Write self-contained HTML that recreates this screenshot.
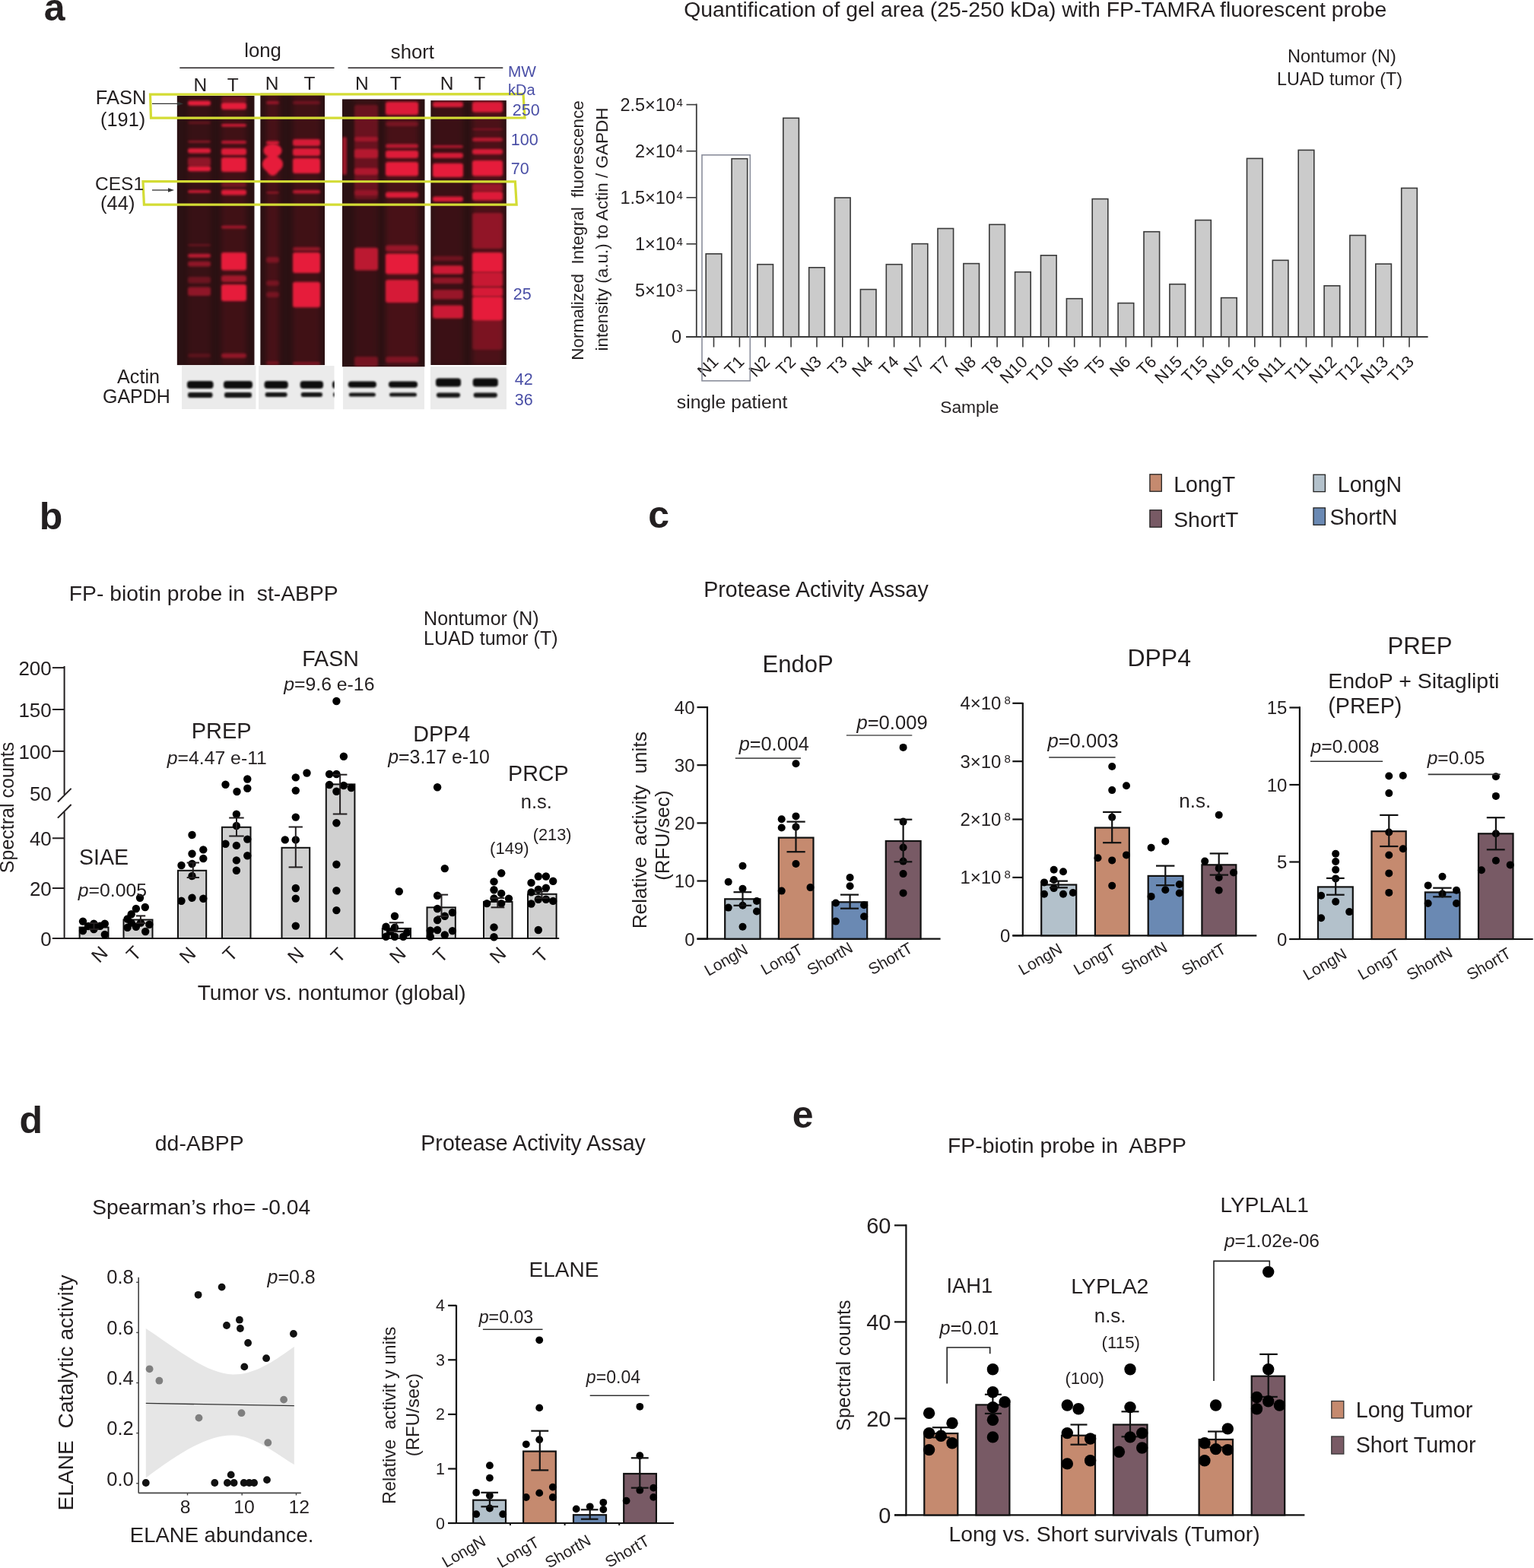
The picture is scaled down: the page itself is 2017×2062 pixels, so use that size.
<!DOCTYPE html>
<html><head><meta charset="utf-8"><title>Figure</title>
<style>html,body{margin:0;padding:0;background:#fff;} svg{display:block;}</style>
</head><body>
<svg width="2017" height="2062" viewBox="0 0 2017 2062" font-family="Liberation Sans, Arial, sans-serif">
<rect width="2017" height="2062" fill="#fff"/>
<defs><filter id="bl" x="-30%" y="-100%" width="160%" height="300%"><feGaussianBlur stdDeviation="1.8"/></filter><filter id="bl2" x="-30%" y="-100%" width="160%" height="300%"><feGaussianBlur stdDeviation="3.5"/></filter><filter id="blk" x="-30%" y="-100%" width="160%" height="300%"><feGaussianBlur stdDeviation="1.3"/></filter></defs>
<clipPath id="gc0"><rect x="232.6" y="126" width="102.1" height="354.3"/></clipPath>
<g clip-path="url(#gc0)">
<rect x="232.6" y="126.0" width="102.1" height="354.3" fill="#2b1113"/>
<rect x="247.0" y="126" width="30.0" height="354.3" fill="#b0182c" opacity="0.10" filter="url(#bl2)"/>
<rect x="247.0" y="132.5" width="30.0" height="6.2" rx="3" fill="#e61f3b" opacity="1.00" filter="url(#bl)"/>
<rect x="247.0" y="160.5" width="30.0" height="2.0" rx="3" fill="#e61f3b" opacity="0.40" filter="url(#bl)"/>
<rect x="247.0" y="185.0" width="30.0" height="2.5" rx="3" fill="#e61f3b" opacity="0.55" filter="url(#bl)"/>
<rect x="247.0" y="195.0" width="30.0" height="6.5" rx="3" fill="#e61f3b" opacity="0.95" filter="url(#bl)"/>
<rect x="247.0" y="207.0" width="30.0" height="11.5" rx="3" fill="#e61f3b" opacity="0.50" filter="url(#bl)"/>
<rect x="247.0" y="218.5" width="30.0" height="6.8" rx="3" fill="#e61f3b" opacity="1.00" filter="url(#bl)"/>
<rect x="247.0" y="250.3" width="30.0" height="3.2" rx="3" fill="#e61f3b" opacity="0.95" filter="url(#bl)"/>
<rect x="247.0" y="321.0" width="30.0" height="2.5" rx="3" fill="#e61f3b" opacity="0.30" filter="url(#bl)"/>
<rect x="247.0" y="333.8" width="30.0" height="5.0" rx="3" fill="#e61f3b" opacity="0.75" filter="url(#bl)"/>
<rect x="247.0" y="343.8" width="30.0" height="6.8" rx="3" fill="#e61f3b" opacity="0.50" filter="url(#bl)"/>
<rect x="247.0" y="364.0" width="30.0" height="8.4" rx="3" fill="#e61f3b" opacity="0.30" filter="url(#bl)"/>
<rect x="247.0" y="377.4" width="30.0" height="11.6" rx="3" fill="#e61f3b" opacity="0.50" filter="url(#bl)"/>
<rect x="247.0" y="465.0" width="30.0" height="5.0" rx="3" fill="#e61f3b" opacity="0.20" filter="url(#bl)"/>
<rect x="291.0" y="126" width="33.0" height="354.3" fill="#b0182c" opacity="0.16" filter="url(#bl2)"/>
<rect x="291.0" y="127.0" width="33.0" height="8.0" rx="3" fill="#e61f3b" opacity="0.30" filter="url(#bl)"/>
<rect x="291.0" y="135.0" width="33.0" height="9.0" rx="3" fill="#e61f3b" opacity="1.00" filter="url(#bl)"/>
<rect x="291.0" y="163.0" width="33.0" height="3.5" rx="3" fill="#e61f3b" opacity="0.90" filter="url(#bl)"/>
<rect x="291.0" y="185.0" width="33.0" height="4.0" rx="3" fill="#e61f3b" opacity="0.75" filter="url(#bl)"/>
<rect x="291.0" y="195.0" width="33.0" height="9.0" rx="3" fill="#e61f3b" opacity="0.95" filter="url(#bl)"/>
<rect x="291.0" y="207.0" width="33.0" height="19.0" rx="3" fill="#e61f3b" opacity="1.00" filter="url(#bl)"/>
<rect x="291.0" y="240.0" width="33.0" height="6.0" rx="3" fill="#e61f3b" opacity="0.30" filter="url(#bl)"/>
<rect x="291.0" y="249.6" width="33.0" height="7.0" rx="3" fill="#e61f3b" opacity="0.95" filter="url(#bl)"/>
<rect x="291.0" y="296.8" width="33.0" height="3.7" rx="3" fill="#e61f3b" opacity="0.60" filter="url(#bl)"/>
<rect x="291.0" y="332.0" width="33.0" height="23.6" rx="3" fill="#e61f3b" opacity="1.00" filter="url(#bl)"/>
<rect x="291.0" y="362.3" width="33.0" height="8.4" rx="3" fill="#e61f3b" opacity="0.60" filter="url(#bl)"/>
<rect x="291.0" y="374.0" width="33.0" height="22.0" rx="3" fill="#e61f3b" opacity="1.00" filter="url(#bl)"/>
<rect x="291.0" y="464.8" width="33.0" height="5.9" rx="3" fill="#e61f3b" opacity="0.50" filter="url(#bl)"/>
</g>
<clipPath id="gc1"><rect x="342.2" y="122.5" width="84.8" height="357.8"/></clipPath>
<g clip-path="url(#gc1)">
<rect x="342.2" y="122.5" width="84.8" height="357.8" fill="#2b1113"/>
<rect x="350.0" y="122.5" width="17.0" height="357.8" fill="#b0182c" opacity="0.22" filter="url(#bl2)"/>
<rect x="350.0" y="133.0" width="17.0" height="4.0" rx="3" fill="#e61f3b" opacity="0.50" filter="url(#bl)"/>
<rect x="350.0" y="185.6" width="17.0" height="4.4" rx="3" fill="#e61f3b" opacity="0.90" filter="url(#bl)"/>
<rect x="350.0" y="252.0" width="17.0" height="2.5" rx="3" fill="#e61f3b" opacity="0.50" filter="url(#bl)"/>
<rect x="350.0" y="338.0" width="17.0" height="7.5" rx="3" fill="#e61f3b" opacity="0.35" filter="url(#bl)"/>
<rect x="350.0" y="369.0" width="17.0" height="6.8" rx="3" fill="#e61f3b" opacity="0.30" filter="url(#bl)"/>
<rect x="350.0" y="384.0" width="17.0" height="7.0" rx="3" fill="#e61f3b" opacity="0.30" filter="url(#bl)"/>
<rect x="350.0" y="475.0" width="17.0" height="5.0" rx="3" fill="#e61f3b" opacity="0.30" filter="url(#bl)"/>
<rect x="385.0" y="122.5" width="36.0" height="357.8" fill="#b0182c" opacity="0.16" filter="url(#bl2)"/>
<rect x="385.0" y="133.0" width="36.0" height="4.0" rx="3" fill="#e61f3b" opacity="0.30" filter="url(#bl)"/>
<rect x="385.0" y="183.0" width="36.0" height="9.0" rx="3" fill="#e61f3b" opacity="0.90" filter="url(#bl)"/>
<rect x="385.0" y="195.0" width="36.0" height="10.0" rx="3" fill="#e61f3b" opacity="0.95" filter="url(#bl)"/>
<rect x="385.0" y="208.0" width="36.0" height="20.0" rx="3" fill="#e61f3b" opacity="1.00" filter="url(#bl)"/>
<rect x="385.0" y="250.0" width="36.0" height="4.5" rx="3" fill="#e61f3b" opacity="0.75" filter="url(#bl)"/>
<rect x="385.0" y="325.0" width="36.0" height="5.0" rx="3" fill="#e61f3b" opacity="0.50" filter="url(#bl)"/>
<rect x="385.0" y="332.0" width="36.0" height="27.0" rx="3" fill="#e61f3b" opacity="1.00" filter="url(#bl)"/>
<rect x="385.0" y="370.7" width="36.0" height="33.6" rx="3" fill="#e61f3b" opacity="1.00" filter="url(#bl)"/>
<rect x="385.0" y="476.0" width="36.0" height="4.0" rx="3" fill="#e61f3b" opacity="0.40" filter="url(#bl)"/>
</g>
<clipPath id="gc2"><rect x="450" y="130.3" width="108.7" height="352.2"/></clipPath>
<g clip-path="url(#gc2)">
<rect x="450.0" y="130.3" width="108.7" height="352.2" fill="#2b1113"/>
<rect x="466.0" y="130.3" width="31.0" height="352.2" fill="#b0182c" opacity="0.12" filter="url(#bl2)"/>
<rect x="466.0" y="138.0" width="31.0" height="124.0" rx="3" fill="#e61f3b" opacity="0.28" filter="url(#bl)"/>
<rect x="466.0" y="180.0" width="31.0" height="6.0" rx="3" fill="#e61f3b" opacity="0.45" filter="url(#bl)"/>
<rect x="466.0" y="196.0" width="31.0" height="12.0" rx="3" fill="#e61f3b" opacity="0.60" filter="url(#bl)"/>
<rect x="466.0" y="221.0" width="31.0" height="9.0" rx="3" fill="#e61f3b" opacity="0.55" filter="url(#bl)"/>
<rect x="466.0" y="250.0" width="31.0" height="7.0" rx="3" fill="#e61f3b" opacity="0.35" filter="url(#bl)"/>
<rect x="466.0" y="325.7" width="31.0" height="29.9" rx="3" fill="#e61f3b" opacity="0.75" filter="url(#bl)"/>
<rect x="466.0" y="469.0" width="31.0" height="13.0" rx="3" fill="#e61f3b" opacity="0.35" filter="url(#bl)"/>
<rect x="507.0" y="130.3" width="43.0" height="352.2" fill="#b0182c" opacity="0.22" filter="url(#bl2)"/>
<rect x="507.0" y="134.0" width="43.0" height="17.0" rx="3" fill="#e61f3b" opacity="0.95" filter="url(#bl)"/>
<rect x="507.0" y="160.0" width="43.0" height="6.0" rx="3" fill="#e61f3b" opacity="0.30" filter="url(#bl)"/>
<rect x="507.0" y="189.5" width="43.0" height="5.1" rx="3" fill="#e61f3b" opacity="0.75" filter="url(#bl)"/>
<rect x="507.0" y="198.0" width="43.0" height="10.0" rx="3" fill="#e61f3b" opacity="0.95" filter="url(#bl)"/>
<rect x="507.0" y="213.0" width="43.0" height="18.5" rx="3" fill="#e61f3b" opacity="1.00" filter="url(#bl)"/>
<rect x="507.0" y="252.5" width="43.0" height="7.5" rx="3" fill="#e61f3b" opacity="0.95" filter="url(#bl)"/>
<rect x="507.0" y="322.5" width="43.0" height="7.9" rx="3" fill="#e61f3b" opacity="0.50" filter="url(#bl)"/>
<rect x="507.0" y="333.6" width="43.0" height="26.8" rx="3" fill="#e61f3b" opacity="1.00" filter="url(#bl)"/>
<rect x="507.0" y="368.0" width="43.0" height="30.0" rx="3" fill="#e61f3b" opacity="0.90" filter="url(#bl)"/>
<rect x="507.0" y="469.0" width="43.0" height="8.0" rx="3" fill="#e61f3b" opacity="0.35" filter="url(#bl)"/>
<rect x="450.0" y="180.0" width="6.0" height="50.0" rx="3" fill="#e61f3b" opacity="0.60" filter="url(#bl)"/>
</g>
<clipPath id="gc3"><rect x="566.2" y="132.1" width="99.7" height="347.9"/></clipPath>
<g clip-path="url(#gc3)">
<rect x="566.2" y="132.1" width="99.7" height="347.9" fill="#2b1113"/>
<rect x="569.0" y="132.1" width="40.0" height="347.9" fill="#b0182c" opacity="0.12" filter="url(#bl2)"/>
<rect x="569.0" y="134.0" width="40.0" height="7.0" rx="3" fill="#e61f3b" opacity="0.90" filter="url(#bl)"/>
<rect x="569.0" y="191.0" width="40.0" height="3.6" rx="3" fill="#e61f3b" opacity="0.70" filter="url(#bl)"/>
<rect x="569.0" y="201.0" width="40.0" height="7.0" rx="3" fill="#e61f3b" opacity="0.90" filter="url(#bl)"/>
<rect x="569.0" y="214.7" width="40.0" height="18.3" rx="3" fill="#e61f3b" opacity="1.00" filter="url(#bl)"/>
<rect x="569.0" y="258.4" width="40.0" height="6.6" rx="3" fill="#e61f3b" opacity="0.95" filter="url(#bl)"/>
<rect x="569.0" y="336.7" width="40.0" height="6.3" rx="3" fill="#e61f3b" opacity="0.30" filter="url(#bl)"/>
<rect x="569.0" y="349.3" width="40.0" height="11.1" rx="3" fill="#e61f3b" opacity="0.85" filter="url(#bl)"/>
<rect x="569.0" y="365.0" width="40.0" height="8.0" rx="3" fill="#e61f3b" opacity="0.50" filter="url(#bl)"/>
<rect x="569.0" y="381.0" width="40.0" height="12.5" rx="3" fill="#e61f3b" opacity="0.55" filter="url(#bl)"/>
<rect x="569.0" y="401.4" width="40.0" height="17.3" rx="3" fill="#e61f3b" opacity="0.85" filter="url(#bl)"/>
<rect x="621.0" y="132.1" width="40.0" height="347.9" fill="#b0182c" opacity="0.25" filter="url(#bl2)"/>
<rect x="621.0" y="134.0" width="40.0" height="13.5" rx="3" fill="#e61f3b" opacity="0.95" filter="url(#bl)"/>
<rect x="621.0" y="169.0" width="40.0" height="2.0" rx="3" fill="#e61f3b" opacity="0.40" filter="url(#bl)"/>
<rect x="621.0" y="181.0" width="40.0" height="5.0" rx="3" fill="#e61f3b" opacity="0.70" filter="url(#bl)"/>
<rect x="621.0" y="196.0" width="40.0" height="7.0" rx="3" fill="#e61f3b" opacity="0.90" filter="url(#bl)"/>
<rect x="621.0" y="211.0" width="40.0" height="20.5" rx="3" fill="#e61f3b" opacity="1.00" filter="url(#bl)"/>
<rect x="621.0" y="241.6" width="40.0" height="10.4" rx="3" fill="#e61f3b" opacity="0.50" filter="url(#bl)"/>
<rect x="621.0" y="252.0" width="40.0" height="11.4" rx="3" fill="#e61f3b" opacity="0.95" filter="url(#bl)"/>
<rect x="621.0" y="280.0" width="40.0" height="47.0" rx="3" fill="#e61f3b" opacity="0.45" filter="url(#bl)"/>
<rect x="621.0" y="332.0" width="40.0" height="26.0" rx="3" fill="#e61f3b" opacity="1.00" filter="url(#bl)"/>
<rect x="621.0" y="358.0" width="40.0" height="19.0" rx="3" fill="#e61f3b" opacity="0.80" filter="url(#bl)"/>
<rect x="621.0" y="377.7" width="40.0" height="12.3" rx="3" fill="#e61f3b" opacity="0.90" filter="url(#bl)"/>
<rect x="621.0" y="390.0" width="40.0" height="31.8" rx="3" fill="#e61f3b" opacity="1.00" filter="url(#bl)"/>
<rect x="621.0" y="422.0" width="40.0" height="38.0" rx="3" fill="#e61f3b" opacity="0.30" filter="url(#bl)"/>
</g>
<clipPath id="ac0"><rect x="239" y="480.8" width="97.7" height="57.2"/></clipPath>
<g clip-path="url(#ac0)">
<rect x="239.0" y="480.8" width="97.7" height="57.2" fill="#ebebeb"/>
<rect x="246.0" y="501.0" width="34.5" height="10.0" rx="4" fill="#0a0a0a" filter="url(#blk)"/>
<rect x="247.0" y="516.0" width="32.5" height="7.0" rx="3" fill="#141414" filter="url(#blk)"/>
<rect x="294.0" y="501.0" width="38.0" height="10.0" rx="4" fill="#0a0a0a" filter="url(#blk)"/>
<rect x="295.0" y="516.0" width="36.0" height="7.0" rx="3" fill="#141414" filter="url(#blk)"/>
</g>
<clipPath id="ac1"><rect x="340" y="481" width="99.7" height="57.5"/></clipPath>
<g clip-path="url(#ac1)">
<rect x="340.0" y="481.0" width="99.7" height="57.5" fill="#ebebeb"/>
<rect x="347.6" y="501.0" width="31.1" height="10.0" rx="4" fill="#0a0a0a" filter="url(#blk)"/>
<rect x="348.6" y="516.0" width="29.1" height="6.0" rx="3" fill="#141414" filter="url(#blk)"/>
<rect x="394.7" y="501.0" width="30.3" height="10.0" rx="4" fill="#0a0a0a" filter="url(#blk)"/>
<rect x="395.7" y="516.0" width="28.3" height="6.0" rx="3" fill="#141414" filter="url(#blk)"/>
<rect x="437.0" y="501.0" width="9.0" height="10.0" rx="4" fill="#0a0a0a" filter="url(#blk)"/>
<rect x="438.0" y="516.0" width="7.0" height="6.0" rx="3" fill="#141414" filter="url(#blk)"/>
</g>
<clipPath id="ac2"><rect x="451" y="483" width="107.2" height="55.5"/></clipPath>
<g clip-path="url(#ac2)">
<rect x="451.0" y="483.0" width="107.2" height="55.5" fill="#ebebeb"/>
<rect x="457.8" y="501.4" width="37.1" height="8.4" rx="4" fill="#0a0a0a" filter="url(#blk)"/>
<rect x="458.8" y="516.4" width="35.1" height="5.1" rx="3" fill="#141414" filter="url(#blk)"/>
<rect x="511.0" y="501.4" width="38.0" height="8.4" rx="4" fill="#0a0a0a" filter="url(#blk)"/>
<rect x="512.0" y="516.4" width="36.0" height="5.1" rx="3" fill="#141414" filter="url(#blk)"/>
</g>
<clipPath id="ac3"><rect x="566" y="481.7" width="100.0" height="56.8"/></clipPath>
<g clip-path="url(#ac3)">
<rect x="566.0" y="481.7" width="100.0" height="56.8" fill="#ebebeb"/>
<rect x="573.0" y="497.5" width="33.0" height="11.0" rx="4" fill="#0a0a0a" filter="url(#blk)"/>
<rect x="574.0" y="516.4" width="31.0" height="6.3" rx="3" fill="#141414" filter="url(#blk)"/>
<rect x="621.7" y="497.5" width="33.1" height="11.0" rx="4" fill="#0a0a0a" filter="url(#blk)"/>
<rect x="622.7" y="516.4" width="31.1" height="6.3" rx="3" fill="#141414" filter="url(#blk)"/>
</g>
<polygon points="197.5,124.2 688,123.6 690,155 198.5,155.2" fill="none" stroke="#d3dc34" stroke-width="3.2"/>
<polygon points="188,238.6 677.4,238.8 679.2,269.2 189.4,269.2" fill="none" stroke="#d3dc34" stroke-width="3.2"/>
<line x1="200.0" y1="136.4" x2="236.0" y2="136.4" stroke="#333" stroke-width="1.3"/>
<polygon points="233,133.6 241,136.4 233,139.2" fill="#333"/>
<line x1="200.0" y1="250.0" x2="224.0" y2="250.0" stroke="#333" stroke-width="1.3"/>
<polygon points="221,247.3 229,250 221,252.7" fill="#333"/>
<text x="57.7" y="26.9" font-size="50" font-weight="bold" fill="#231f20">a</text>
<text x="321.2" y="74.7" font-size="25.8" fill="#231f20">long</text>
<text x="513.8" y="76.6" font-size="25.7" fill="#231f20">short</text>
<line x1="236.3" y1="89.3" x2="439.5" y2="89.3" stroke="#231f20" stroke-width="1.4"/>
<line x1="457.6" y1="89.2" x2="661.3" y2="89.2" stroke="#231f20" stroke-width="1.4"/>
<text x="254.5" y="119.6" font-size="24.5" fill="#231f20">N</text>
<text x="298.7" y="119.6" font-size="24.5" fill="#231f20">T</text>
<text x="348.8" y="118.0" font-size="24.5" fill="#231f20">N</text>
<text x="399.6" y="118.0" font-size="24.5" fill="#231f20">T</text>
<text x="466.9" y="117.8" font-size="24.5" fill="#231f20">N</text>
<text x="512.7" y="117.8" font-size="24.5" fill="#231f20">T</text>
<text x="578.7" y="117.8" font-size="24.5" fill="#231f20">N</text>
<text x="623.2" y="117.8" font-size="24.5" fill="#231f20">T</text>
<text x="125.8" y="136.9" font-size="25.5" fill="#231f20">FASN</text>
<text x="132.1" y="166.0" font-size="25.3" fill="#231f20">(191)</text>
<text x="125.0" y="249.6" font-size="24.5" fill="#231f20">CES1</text>
<text x="132.1" y="276.0" font-size="25.5" fill="#231f20">(44)</text>
<text x="154.0" y="504.3" font-size="25.2" fill="#231f20">Actin</text>
<text x="135.0" y="529.5" font-size="25" fill="#231f20">GAPDH</text>
<text x="668.0" y="100.5" font-size="20.8" fill="#4a4fa6">MW</text>
<text x="668.0" y="125.4" font-size="20" fill="#4a4fa6">kDa</text>
<text x="673.8" y="151.8" font-size="21.5" fill="#4a4fa6">250</text>
<text x="671.8" y="191.3" font-size="21.5" fill="#4a4fa6">100</text>
<text x="671.8" y="229.0" font-size="21.5" fill="#4a4fa6">70</text>
<text x="674.8" y="393.8" font-size="21.5" fill="#4a4fa6">25</text>
<text x="676.7" y="506.0" font-size="21.5" fill="#4a4fa6">42</text>
<text x="676.7" y="533.0" font-size="21.5" fill="#4a4fa6">36</text>
<g clip-path="url(#gc1)" filter="url(#bl)"><ellipse cx="358.5" cy="198" rx="12" ry="9" fill="#e61f3b"/><ellipse cx="358.5" cy="216" rx="13.5" ry="11" fill="#e61f3b"/><path d="M350,224 Q358.5,238 367,224 Z" fill="#e61f3b"/></g>
<text x="899.2" y="22.0" font-size="28.4" fill="#231f20">Quantification of gel area (25-250 kDa) with FP-TAMRA fluorescent probe</text>
<text x="1692.9" y="81.8" font-size="23.6" fill="#231f20">Nontumor (N)</text>
<text x="1679.1" y="112.0" font-size="23.4" fill="#231f20">LUAD tumor (T)</text>
<rect x="928.2" y="333.8" width="20.6" height="109.2" fill="#cbcbcb" stroke="#3a3a3a" stroke-width="1.6"/>
<line x1="938.5" y1="443.0" x2="938.5" y2="456.5" stroke="#3a3a3a" stroke-width="1.6"/>
<text transform="translate(946.0,477.2) rotate(-45)" font-size="22" text-anchor="end" fill="#231f20">N1</text>
<rect x="962.1" y="208.7" width="20.6" height="234.3" fill="#cbcbcb" stroke="#3a3a3a" stroke-width="1.6"/>
<line x1="972.4" y1="443.0" x2="972.4" y2="456.5" stroke="#3a3a3a" stroke-width="1.6"/>
<text transform="translate(979.9,477.2) rotate(-45)" font-size="22" text-anchor="end" fill="#231f20">T1</text>
<rect x="995.9" y="347.7" width="20.6" height="95.3" fill="#cbcbcb" stroke="#3a3a3a" stroke-width="1.6"/>
<line x1="1006.2" y1="443.0" x2="1006.2" y2="456.5" stroke="#3a3a3a" stroke-width="1.6"/>
<text transform="translate(1013.7,477.2) rotate(-45)" font-size="22" text-anchor="end" fill="#231f20">N2</text>
<rect x="1029.8" y="155.3" width="20.6" height="287.7" fill="#cbcbcb" stroke="#3a3a3a" stroke-width="1.6"/>
<line x1="1040.1" y1="443.0" x2="1040.1" y2="456.5" stroke="#3a3a3a" stroke-width="1.6"/>
<text transform="translate(1047.6,477.2) rotate(-45)" font-size="22" text-anchor="end" fill="#231f20">T2</text>
<rect x="1063.7" y="351.8" width="20.6" height="91.2" fill="#cbcbcb" stroke="#3a3a3a" stroke-width="1.6"/>
<line x1="1074.0" y1="443.0" x2="1074.0" y2="456.5" stroke="#3a3a3a" stroke-width="1.6"/>
<text transform="translate(1081.5,477.2) rotate(-45)" font-size="22" text-anchor="end" fill="#231f20">N3</text>
<rect x="1097.5" y="260.0" width="20.6" height="183.0" fill="#cbcbcb" stroke="#3a3a3a" stroke-width="1.6"/>
<line x1="1107.8" y1="443.0" x2="1107.8" y2="456.5" stroke="#3a3a3a" stroke-width="1.6"/>
<text transform="translate(1115.3,477.2) rotate(-45)" font-size="22" text-anchor="end" fill="#231f20">T3</text>
<rect x="1131.4" y="380.6" width="20.6" height="62.4" fill="#cbcbcb" stroke="#3a3a3a" stroke-width="1.6"/>
<line x1="1141.7" y1="443.0" x2="1141.7" y2="456.5" stroke="#3a3a3a" stroke-width="1.6"/>
<text transform="translate(1149.2,477.2) rotate(-45)" font-size="22" text-anchor="end" fill="#231f20">N4</text>
<rect x="1165.3" y="347.7" width="20.6" height="95.3" fill="#cbcbcb" stroke="#3a3a3a" stroke-width="1.6"/>
<line x1="1175.6" y1="443.0" x2="1175.6" y2="456.5" stroke="#3a3a3a" stroke-width="1.6"/>
<text transform="translate(1183.1,477.2) rotate(-45)" font-size="22" text-anchor="end" fill="#231f20">T4</text>
<rect x="1199.2" y="320.6" width="20.6" height="122.4" fill="#cbcbcb" stroke="#3a3a3a" stroke-width="1.6"/>
<line x1="1209.5" y1="443.0" x2="1209.5" y2="456.5" stroke="#3a3a3a" stroke-width="1.6"/>
<text transform="translate(1217.0,477.2) rotate(-45)" font-size="22" text-anchor="end" fill="#231f20">N7</text>
<rect x="1233.0" y="300.5" width="20.6" height="142.5" fill="#cbcbcb" stroke="#3a3a3a" stroke-width="1.6"/>
<line x1="1243.3" y1="443.0" x2="1243.3" y2="456.5" stroke="#3a3a3a" stroke-width="1.6"/>
<text transform="translate(1250.8,477.2) rotate(-45)" font-size="22" text-anchor="end" fill="#231f20">T7</text>
<rect x="1266.9" y="346.6" width="20.6" height="96.4" fill="#cbcbcb" stroke="#3a3a3a" stroke-width="1.6"/>
<line x1="1277.2" y1="443.0" x2="1277.2" y2="456.5" stroke="#3a3a3a" stroke-width="1.6"/>
<text transform="translate(1284.7,477.2) rotate(-45)" font-size="22" text-anchor="end" fill="#231f20">N8</text>
<rect x="1300.8" y="295.3" width="20.6" height="147.7" fill="#cbcbcb" stroke="#3a3a3a" stroke-width="1.6"/>
<line x1="1311.1" y1="443.0" x2="1311.1" y2="456.5" stroke="#3a3a3a" stroke-width="1.6"/>
<text transform="translate(1318.6,477.2) rotate(-45)" font-size="22" text-anchor="end" fill="#231f20">T8</text>
<rect x="1334.6" y="357.7" width="20.6" height="85.3" fill="#cbcbcb" stroke="#3a3a3a" stroke-width="1.6"/>
<line x1="1344.9" y1="443.0" x2="1344.9" y2="456.5" stroke="#3a3a3a" stroke-width="1.6"/>
<text transform="translate(1352.4,477.2) rotate(-45)" font-size="22" text-anchor="end" fill="#231f20">N10</text>
<rect x="1368.5" y="335.8" width="20.6" height="107.2" fill="#cbcbcb" stroke="#3a3a3a" stroke-width="1.6"/>
<line x1="1378.8" y1="443.0" x2="1378.8" y2="456.5" stroke="#3a3a3a" stroke-width="1.6"/>
<text transform="translate(1386.3,477.2) rotate(-45)" font-size="22" text-anchor="end" fill="#231f20">T10</text>
<rect x="1402.4" y="392.7" width="20.6" height="50.3" fill="#cbcbcb" stroke="#3a3a3a" stroke-width="1.6"/>
<line x1="1412.7" y1="443.0" x2="1412.7" y2="456.5" stroke="#3a3a3a" stroke-width="1.6"/>
<text transform="translate(1420.2,477.2) rotate(-45)" font-size="22" text-anchor="end" fill="#231f20">N5</text>
<rect x="1436.2" y="261.6" width="20.6" height="181.4" fill="#cbcbcb" stroke="#3a3a3a" stroke-width="1.6"/>
<line x1="1446.5" y1="443.0" x2="1446.5" y2="456.5" stroke="#3a3a3a" stroke-width="1.6"/>
<text transform="translate(1454.0,477.2) rotate(-45)" font-size="22" text-anchor="end" fill="#231f20">T5</text>
<rect x="1470.1" y="398.6" width="20.6" height="44.4" fill="#cbcbcb" stroke="#3a3a3a" stroke-width="1.6"/>
<line x1="1480.4" y1="443.0" x2="1480.4" y2="456.5" stroke="#3a3a3a" stroke-width="1.6"/>
<text transform="translate(1487.9,477.2) rotate(-45)" font-size="22" text-anchor="end" fill="#231f20">N6</text>
<rect x="1504.0" y="304.7" width="20.6" height="138.3" fill="#cbcbcb" stroke="#3a3a3a" stroke-width="1.6"/>
<line x1="1514.3" y1="443.0" x2="1514.3" y2="456.5" stroke="#3a3a3a" stroke-width="1.6"/>
<text transform="translate(1521.8,477.2) rotate(-45)" font-size="22" text-anchor="end" fill="#231f20">T6</text>
<rect x="1537.9" y="373.7" width="20.6" height="69.3" fill="#cbcbcb" stroke="#3a3a3a" stroke-width="1.6"/>
<line x1="1548.2" y1="443.0" x2="1548.2" y2="456.5" stroke="#3a3a3a" stroke-width="1.6"/>
<text transform="translate(1555.7,477.2) rotate(-45)" font-size="22" text-anchor="end" fill="#231f20">N15</text>
<rect x="1571.7" y="289.5" width="20.6" height="153.5" fill="#cbcbcb" stroke="#3a3a3a" stroke-width="1.6"/>
<line x1="1582.0" y1="443.0" x2="1582.0" y2="456.5" stroke="#3a3a3a" stroke-width="1.6"/>
<text transform="translate(1589.5,477.2) rotate(-45)" font-size="22" text-anchor="end" fill="#231f20">T15</text>
<rect x="1605.6" y="391.6" width="20.6" height="51.4" fill="#cbcbcb" stroke="#3a3a3a" stroke-width="1.6"/>
<line x1="1615.9" y1="443.0" x2="1615.9" y2="456.5" stroke="#3a3a3a" stroke-width="1.6"/>
<text transform="translate(1623.4,477.2) rotate(-45)" font-size="22" text-anchor="end" fill="#231f20">N16</text>
<rect x="1639.5" y="208.4" width="20.6" height="234.6" fill="#cbcbcb" stroke="#3a3a3a" stroke-width="1.6"/>
<line x1="1649.8" y1="443.0" x2="1649.8" y2="456.5" stroke="#3a3a3a" stroke-width="1.6"/>
<text transform="translate(1657.3,477.2) rotate(-45)" font-size="22" text-anchor="end" fill="#231f20">T16</text>
<rect x="1673.3" y="342.3" width="20.6" height="100.7" fill="#cbcbcb" stroke="#3a3a3a" stroke-width="1.6"/>
<line x1="1683.6" y1="443.0" x2="1683.6" y2="456.5" stroke="#3a3a3a" stroke-width="1.6"/>
<text transform="translate(1691.1,477.2) rotate(-45)" font-size="22" text-anchor="end" fill="#231f20">N11</text>
<rect x="1707.2" y="197.4" width="20.6" height="245.6" fill="#cbcbcb" stroke="#3a3a3a" stroke-width="1.6"/>
<line x1="1717.5" y1="443.0" x2="1717.5" y2="456.5" stroke="#3a3a3a" stroke-width="1.6"/>
<text transform="translate(1725.0,477.2) rotate(-45)" font-size="22" text-anchor="end" fill="#231f20">T11</text>
<rect x="1741.1" y="375.8" width="20.6" height="67.2" fill="#cbcbcb" stroke="#3a3a3a" stroke-width="1.6"/>
<line x1="1751.4" y1="443.0" x2="1751.4" y2="456.5" stroke="#3a3a3a" stroke-width="1.6"/>
<text transform="translate(1758.9,477.2) rotate(-45)" font-size="22" text-anchor="end" fill="#231f20">N12</text>
<rect x="1774.9" y="309.5" width="20.6" height="133.5" fill="#cbcbcb" stroke="#3a3a3a" stroke-width="1.6"/>
<line x1="1785.2" y1="443.0" x2="1785.2" y2="456.5" stroke="#3a3a3a" stroke-width="1.6"/>
<text transform="translate(1792.7,477.2) rotate(-45)" font-size="22" text-anchor="end" fill="#231f20">T12</text>
<rect x="1808.8" y="347.1" width="20.6" height="95.9" fill="#cbcbcb" stroke="#3a3a3a" stroke-width="1.6"/>
<line x1="1819.1" y1="443.0" x2="1819.1" y2="456.5" stroke="#3a3a3a" stroke-width="1.6"/>
<text transform="translate(1826.6,477.2) rotate(-45)" font-size="22" text-anchor="end" fill="#231f20">N13</text>
<rect x="1842.7" y="247.4" width="20.6" height="195.6" fill="#cbcbcb" stroke="#3a3a3a" stroke-width="1.6"/>
<line x1="1853.0" y1="443.0" x2="1853.0" y2="456.5" stroke="#3a3a3a" stroke-width="1.6"/>
<text transform="translate(1860.5,477.2) rotate(-45)" font-size="22" text-anchor="end" fill="#231f20">T13</text>
<line x1="915.8" y1="136.6" x2="915.8" y2="444.0" stroke="#3a3a3a" stroke-width="1.8"/>
<line x1="902.0" y1="443.0" x2="1877.6" y2="443.0" stroke="#3a3a3a" stroke-width="1.8"/>
<line x1="902.5" y1="137.6" x2="915.8" y2="137.6" stroke="#3a3a3a" stroke-width="1.6"/>
<text x="897.8" y="146.0" font-size="23.5" text-anchor="end" fill="#231f20">2.5×10<tspan font-size="15" dx="1.5" dy="-6.3">4</tspan></text>
<line x1="902.5" y1="198.7" x2="915.8" y2="198.7" stroke="#3a3a3a" stroke-width="1.6"/>
<text x="897.8" y="207.1" font-size="23.5" text-anchor="end" fill="#231f20">2×10<tspan font-size="15" dx="1.5" dy="-6.3">4</tspan></text>
<line x1="902.5" y1="259.8" x2="915.8" y2="259.8" stroke="#3a3a3a" stroke-width="1.6"/>
<text x="897.8" y="268.2" font-size="23.5" text-anchor="end" fill="#231f20">1.5×10<tspan font-size="15" dx="1.5" dy="-6.3">4</tspan></text>
<line x1="902.5" y1="320.8" x2="915.8" y2="320.8" stroke="#3a3a3a" stroke-width="1.6"/>
<text x="897.8" y="329.2" font-size="23.5" text-anchor="end" fill="#231f20">1×10<tspan font-size="15" dx="1.5" dy="-6.3">4</tspan></text>
<line x1="902.5" y1="381.9" x2="915.8" y2="381.9" stroke="#3a3a3a" stroke-width="1.6"/>
<text x="897.8" y="390.3" font-size="23.5" text-anchor="end" fill="#231f20">5×10<tspan font-size="15" dx="1.5" dy="-6.3">3</tspan></text>
<line x1="902.5" y1="443.0" x2="915.8" y2="443.0" stroke="#3a3a3a" stroke-width="1.6"/>
<text x="896.0" y="451.4" font-size="23.5" text-anchor="end" fill="#231f20">0</text>
<text transform="translate(767.0,303.0) rotate(-90)" font-size="22.5" text-anchor="middle" fill="#231f20">Normalized  Integral  fluorescence</text>
<text transform="translate(798.9,301.5) rotate(-90)" font-size="22.5" text-anchor="middle" fill="#231f20">intensity (a.u.) to Actin / GAPDH</text>
<rect x="923" y="203.8" width="63.3" height="297" fill="none" stroke="#8a8e9c" stroke-width="1.6"/>
<text x="889.8" y="537.3" font-size="24.7" fill="#231f20">single patient</text>
<text x="1236.2" y="542.5" font-size="22.8" fill="#231f20">Sample</text>
<text x="51.7" y="696.0" font-size="50" font-weight="bold" fill="#231f20">b</text>
<text x="90.8" y="789.7" font-size="28.3" fill="#231f20">FP- biotin probe in  st-ABPP</text>
<text x="557.1" y="821.6" font-size="25" fill="#231f20">Nontumor (N)</text>
<text x="557.1" y="847.6" font-size="25" fill="#231f20">LUAD tumor (T)</text>
<line x1="84.6" y1="876.0" x2="84.6" y2="1045.0" stroke="#231f20" stroke-width="2"/>
<line x1="84.6" y1="1067.4" x2="84.6" y2="1235.0" stroke="#231f20" stroke-width="2"/>
<line x1="75.9" y1="1054.5" x2="93.6" y2="1036.9" stroke="#231f20" stroke-width="2"/>
<line x1="75.9" y1="1075.6" x2="93.6" y2="1058.0" stroke="#231f20" stroke-width="2"/>
<line x1="68.9" y1="1234.0" x2="735.2" y2="1234.0" stroke="#231f20" stroke-width="2"/>
<line x1="68.9" y1="878.1" x2="84.6" y2="878.1" stroke="#231f20" stroke-width="2"/>
<text x="67.8" y="887.7" font-size="26" text-anchor="end" fill="#231f20">200</text>
<line x1="68.9" y1="933.0" x2="84.6" y2="933.0" stroke="#231f20" stroke-width="2"/>
<text x="67.8" y="942.6" font-size="26" text-anchor="end" fill="#231f20">150</text>
<line x1="68.9" y1="987.9" x2="84.6" y2="987.9" stroke="#231f20" stroke-width="2"/>
<text x="67.8" y="997.5" font-size="26" text-anchor="end" fill="#231f20">100</text>
<line x1="68.9" y1="1102.3" x2="84.6" y2="1102.3" stroke="#231f20" stroke-width="2"/>
<text x="67.8" y="1111.9" font-size="26" text-anchor="end" fill="#231f20">40</text>
<line x1="68.9" y1="1168.0" x2="84.6" y2="1168.0" stroke="#231f20" stroke-width="2"/>
<text x="67.8" y="1177.6" font-size="26" text-anchor="end" fill="#231f20">20</text>
<line x1="68.9" y1="1234.0" x2="84.6" y2="1234.0" stroke="#231f20" stroke-width="2"/>
<text x="67.8" y="1243.6" font-size="26" text-anchor="end" fill="#231f20">0</text>
<text x="67.8" y="1052.9" font-size="26" text-anchor="end" fill="#231f20">50</text>
<text transform="translate(18.0,1062.0) rotate(-90)" font-size="25" text-anchor="middle" fill="#231f20">Spectral counts</text>
<text x="259.7" y="1314.6" font-size="28.2" fill="#231f20">Tumor vs. nontumor (global)</text>
<rect x="104.6" y="1219.5" width="37.9" height="14.5" fill="#d0d0d0" stroke="#111" stroke-width="2"/>
<rect x="162.5" y="1209.5" width="38.0" height="24.5" fill="#d0d0d0" stroke="#111" stroke-width="2"/>
<rect x="234.0" y="1144.8" width="37.2" height="89.2" fill="#d0d0d0" stroke="#111" stroke-width="2"/>
<rect x="292.0" y="1087.8" width="37.5" height="146.2" fill="#d0d0d0" stroke="#111" stroke-width="2"/>
<rect x="370.5" y="1114.8" width="36.7" height="119.2" fill="#d0d0d0" stroke="#111" stroke-width="2"/>
<rect x="428.8" y="1031.4" width="37.6" height="202.6" fill="#d0d0d0" stroke="#111" stroke-width="2"/>
<rect x="502.8" y="1220.9" width="37.2" height="13.1" fill="#d0d0d0" stroke="#111" stroke-width="2"/>
<rect x="561.5" y="1193.3" width="37.3" height="40.7" fill="#d0d0d0" stroke="#111" stroke-width="2"/>
<rect x="636.0" y="1185.9" width="37.5" height="48.1" fill="#d0d0d0" stroke="#111" stroke-width="2"/>
<rect x="694.0" y="1175.8" width="37.6" height="58.2" fill="#d0d0d0" stroke="#111" stroke-width="2"/>
<circle cx="109.0" cy="1211.6" r="5.2" fill="#000"/>
<circle cx="109.0" cy="1224.0" r="5.2" fill="#000"/>
<circle cx="123.4" cy="1214.7" r="5.2" fill="#000"/>
<circle cx="123.4" cy="1222.0" r="5.2" fill="#000"/>
<circle cx="131.6" cy="1217.7" r="5.2" fill="#000"/>
<circle cx="137.8" cy="1214.7" r="5.2" fill="#000"/>
<circle cx="137.8" cy="1229.0" r="5.2" fill="#000"/>
<circle cx="116.0" cy="1218.0" r="5.2" fill="#000"/>
<circle cx="184.0" cy="1180.7" r="5.2" fill="#000"/>
<circle cx="178.9" cy="1195.0" r="5.2" fill="#000"/>
<circle cx="190.8" cy="1193.0" r="5.2" fill="#000"/>
<circle cx="172.7" cy="1202.3" r="5.2" fill="#000"/>
<circle cx="167.6" cy="1208.5" r="5.2" fill="#000"/>
<circle cx="167.6" cy="1219.8" r="5.2" fill="#000"/>
<circle cx="178.9" cy="1218.8" r="5.2" fill="#000"/>
<circle cx="185.0" cy="1213.6" r="5.2" fill="#000"/>
<circle cx="191.2" cy="1225.0" r="5.2" fill="#000"/>
<circle cx="196.3" cy="1215.7" r="5.2" fill="#000"/>
<circle cx="172.7" cy="1213.6" r="5.2" fill="#000"/>
<circle cx="252.5" cy="1098.0" r="5.2" fill="#000"/>
<circle cx="267.3" cy="1117.4" r="5.2" fill="#000"/>
<circle cx="252.5" cy="1122.8" r="5.2" fill="#000"/>
<circle cx="267.3" cy="1129.0" r="5.2" fill="#000"/>
<circle cx="238.5" cy="1138.0" r="5.2" fill="#000"/>
<circle cx="252.5" cy="1136.0" r="5.2" fill="#000"/>
<circle cx="252.5" cy="1152.0" r="5.2" fill="#000"/>
<circle cx="238.5" cy="1184.8" r="5.2" fill="#000"/>
<circle cx="252.5" cy="1180.7" r="5.2" fill="#000"/>
<circle cx="267.3" cy="1181.8" r="5.2" fill="#000"/>
<circle cx="296.5" cy="1031.7" r="5.2" fill="#000"/>
<circle cx="311.5" cy="1041.0" r="5.2" fill="#000"/>
<circle cx="325.3" cy="1024.5" r="5.2" fill="#000"/>
<circle cx="325.3" cy="1036.8" r="5.2" fill="#000"/>
<circle cx="310.9" cy="1070.7" r="5.2" fill="#000"/>
<circle cx="310.9" cy="1086.0" r="5.2" fill="#000"/>
<circle cx="325.3" cy="1103.6" r="5.2" fill="#000"/>
<circle cx="296.5" cy="1109.8" r="5.2" fill="#000"/>
<circle cx="310.9" cy="1111.9" r="5.2" fill="#000"/>
<circle cx="325.3" cy="1125.2" r="5.2" fill="#000"/>
<circle cx="310.9" cy="1131.4" r="5.2" fill="#000"/>
<circle cx="310.9" cy="1144.8" r="5.2" fill="#000"/>
<circle cx="388.8" cy="1022.4" r="5.2" fill="#000"/>
<circle cx="403.5" cy="1016.5" r="5.2" fill="#000"/>
<circle cx="388.8" cy="1039.6" r="5.2" fill="#000"/>
<circle cx="388.8" cy="1074.6" r="5.2" fill="#000"/>
<circle cx="374.8" cy="1104.4" r="5.2" fill="#000"/>
<circle cx="388.8" cy="1104.4" r="5.2" fill="#000"/>
<circle cx="388.8" cy="1168.0" r="5.2" fill="#000"/>
<circle cx="388.8" cy="1181.6" r="5.2" fill="#000"/>
<circle cx="388.8" cy="1217.6" r="5.2" fill="#000"/>
<circle cx="442.4" cy="922.0" r="5.2" fill="#000"/>
<circle cx="451.9" cy="994.7" r="5.2" fill="#000"/>
<circle cx="433.1" cy="1018.0" r="5.2" fill="#000"/>
<circle cx="442.4" cy="1018.0" r="5.2" fill="#000"/>
<circle cx="433.1" cy="1032.0" r="5.2" fill="#000"/>
<circle cx="451.9" cy="1033.0" r="5.2" fill="#000"/>
<circle cx="461.8" cy="1036.0" r="5.2" fill="#000"/>
<circle cx="442.4" cy="1040.7" r="5.2" fill="#000"/>
<circle cx="442.4" cy="1082.3" r="5.2" fill="#000"/>
<circle cx="442.4" cy="1136.7" r="5.2" fill="#000"/>
<circle cx="442.4" cy="1171.2" r="5.2" fill="#000"/>
<circle cx="442.4" cy="1197.1" r="5.2" fill="#000"/>
<circle cx="524.8" cy="1172.3" r="5.2" fill="#000"/>
<circle cx="519.0" cy="1204.7" r="5.2" fill="#000"/>
<circle cx="507.5" cy="1218.7" r="5.2" fill="#000"/>
<circle cx="519.0" cy="1219.8" r="5.2" fill="#000"/>
<circle cx="507.5" cy="1231.7" r="5.2" fill="#000"/>
<circle cx="519.0" cy="1231.7" r="5.2" fill="#000"/>
<circle cx="530.2" cy="1231.7" r="5.2" fill="#000"/>
<circle cx="535.2" cy="1226.3" r="5.2" fill="#000"/>
<circle cx="513.0" cy="1225.0" r="5.2" fill="#000"/>
<circle cx="575.1" cy="1035.3" r="5.2" fill="#000"/>
<circle cx="584.8" cy="1142.1" r="5.2" fill="#000"/>
<circle cx="575.1" cy="1177.7" r="5.2" fill="#000"/>
<circle cx="575.1" cy="1195.0" r="5.2" fill="#000"/>
<circle cx="584.8" cy="1204.7" r="5.2" fill="#000"/>
<circle cx="594.9" cy="1200.0" r="5.2" fill="#000"/>
<circle cx="575.1" cy="1210.0" r="5.2" fill="#000"/>
<circle cx="565.8" cy="1223.7" r="5.2" fill="#000"/>
<circle cx="575.1" cy="1223.0" r="5.2" fill="#000"/>
<circle cx="594.9" cy="1224.1" r="5.2" fill="#000"/>
<circle cx="584.8" cy="1229.5" r="5.2" fill="#000"/>
<circle cx="565.8" cy="1231.7" r="5.2" fill="#000"/>
<circle cx="659.2" cy="1148.2" r="5.2" fill="#000"/>
<circle cx="649.5" cy="1159.4" r="5.2" fill="#000"/>
<circle cx="649.5" cy="1170.2" r="5.2" fill="#000"/>
<circle cx="659.2" cy="1174.9" r="5.2" fill="#000"/>
<circle cx="649.5" cy="1181.4" r="5.2" fill="#000"/>
<circle cx="669.0" cy="1181.6" r="5.2" fill="#000"/>
<circle cx="640.2" cy="1188.1" r="5.2" fill="#000"/>
<circle cx="659.2" cy="1188.1" r="5.2" fill="#000"/>
<circle cx="649.5" cy="1219.4" r="5.2" fill="#000"/>
<circle cx="649.5" cy="1232.3" r="5.2" fill="#000"/>
<circle cx="707.8" cy="1152.5" r="5.2" fill="#000"/>
<circle cx="717.9" cy="1152.5" r="5.2" fill="#000"/>
<circle cx="727.2" cy="1158.7" r="5.2" fill="#000"/>
<circle cx="698.5" cy="1160.9" r="5.2" fill="#000"/>
<circle cx="707.8" cy="1169.7" r="5.2" fill="#000"/>
<circle cx="717.9" cy="1167.6" r="5.2" fill="#000"/>
<circle cx="698.5" cy="1173.4" r="5.2" fill="#000"/>
<circle cx="707.8" cy="1182.7" r="5.2" fill="#000"/>
<circle cx="717.9" cy="1182.7" r="5.2" fill="#000"/>
<circle cx="727.2" cy="1184.9" r="5.2" fill="#000"/>
<circle cx="698.5" cy="1188.5" r="5.2" fill="#000"/>
<circle cx="707.8" cy="1223.0" r="5.2" fill="#000"/>
<line x1="184.9" y1="1204.4" x2="184.9" y2="1214.0" stroke="#231f20" stroke-width="2"/>
<line x1="178.9" y1="1204.4" x2="191.2" y2="1204.4" stroke="#231f20" stroke-width="2"/>
<line x1="178.9" y1="1214.0" x2="191.2" y2="1214.0" stroke="#231f20" stroke-width="2"/>
<line x1="253.8" y1="1134.5" x2="253.8" y2="1154.0" stroke="#231f20" stroke-width="2"/>
<line x1="245.7" y1="1134.5" x2="262.0" y2="1134.5" stroke="#231f20" stroke-width="2"/>
<line x1="245.7" y1="1154.0" x2="262.0" y2="1154.0" stroke="#231f20" stroke-width="2"/>
<line x1="311.0" y1="1075.5" x2="311.0" y2="1099.5" stroke="#231f20" stroke-width="2"/>
<line x1="301.2" y1="1075.5" x2="320.7" y2="1075.5" stroke="#231f20" stroke-width="2"/>
<line x1="301.2" y1="1099.5" x2="320.7" y2="1099.5" stroke="#231f20" stroke-width="2"/>
<line x1="388.8" y1="1087.5" x2="388.8" y2="1140.4" stroke="#231f20" stroke-width="2"/>
<line x1="379.6" y1="1087.5" x2="397.9" y2="1087.5" stroke="#231f20" stroke-width="2"/>
<line x1="379.6" y1="1140.4" x2="397.9" y2="1140.4" stroke="#231f20" stroke-width="2"/>
<line x1="447.1" y1="1018.7" x2="447.1" y2="1070.5" stroke="#231f20" stroke-width="2"/>
<line x1="437.8" y1="1018.7" x2="456.4" y2="1018.7" stroke="#231f20" stroke-width="2"/>
<line x1="437.8" y1="1070.5" x2="456.4" y2="1070.5" stroke="#231f20" stroke-width="2"/>
<line x1="521.3" y1="1213.3" x2="521.3" y2="1225.0" stroke="#231f20" stroke-width="2"/>
<line x1="511.8" y1="1213.3" x2="530.8" y2="1213.3" stroke="#231f20" stroke-width="2"/>
<line x1="511.8" y1="1225.0" x2="530.8" y2="1225.0" stroke="#231f20" stroke-width="2"/>
<line x1="580.5" y1="1176.6" x2="580.5" y2="1205.0" stroke="#231f20" stroke-width="2"/>
<line x1="574.4" y1="1176.6" x2="589.1" y2="1176.6" stroke="#231f20" stroke-width="2"/>
<line x1="574.4" y1="1205.0" x2="589.1" y2="1205.0" stroke="#231f20" stroke-width="2"/>
<line x1="654.3" y1="1181.0" x2="654.3" y2="1193.3" stroke="#231f20" stroke-width="2"/>
<line x1="645.6" y1="1181.0" x2="663.3" y2="1181.0" stroke="#231f20" stroke-width="2"/>
<line x1="645.6" y1="1193.3" x2="663.3" y2="1193.3" stroke="#231f20" stroke-width="2"/>
<line x1="712.4" y1="1172.3" x2="712.4" y2="1181.0" stroke="#231f20" stroke-width="2"/>
<line x1="704.0" y1="1172.3" x2="720.7" y2="1172.3" stroke="#231f20" stroke-width="2"/>
<line x1="704.0" y1="1181.0" x2="720.7" y2="1181.0" stroke="#231f20" stroke-width="2"/>
<line x1="123.5" y1="1214.0" x2="123.5" y2="1222.0" stroke="#231f20" stroke-width="2"/>
<line x1="117.0" y1="1214.0" x2="130.0" y2="1214.0" stroke="#231f20" stroke-width="2"/>
<line x1="117.0" y1="1222.0" x2="130.0" y2="1222.0" stroke="#231f20" stroke-width="2"/>
<text transform="translate(136.8,1261.0) rotate(-45)" font-size="25" text-anchor="middle" fill="#231f20">N</text>
<text transform="translate(182.0,1260.0) rotate(-45)" font-size="25" text-anchor="middle" fill="#231f20">T</text>
<text transform="translate(252.6,1262.0) rotate(-45)" font-size="25" text-anchor="middle" fill="#231f20">N</text>
<text transform="translate(308.7,1260.5) rotate(-45)" font-size="25" text-anchor="middle" fill="#231f20">T</text>
<text transform="translate(394.8,1262.0) rotate(-45)" font-size="25" text-anchor="middle" fill="#231f20">N</text>
<text transform="translate(450.6,1262.0) rotate(-45)" font-size="25" text-anchor="middle" fill="#231f20">T</text>
<text transform="translate(528.9,1262.0) rotate(-45)" font-size="25" text-anchor="middle" fill="#231f20">N</text>
<text transform="translate(585.1,1262.0) rotate(-45)" font-size="25" text-anchor="middle" fill="#231f20">T</text>
<text transform="translate(660.7,1262.0) rotate(-45)" font-size="25" text-anchor="middle" fill="#231f20">N</text>
<text transform="translate(716.8,1262.0) rotate(-45)" font-size="25" text-anchor="middle" fill="#231f20">T</text>
<text x="104.0" y="1137.0" font-size="28.6" fill="#231f20">SIAE</text>
<text x="102.8" y="1179.0" font-size="24.8" fill="#231f20"><tspan font-style="italic">p</tspan>=0.005</text>
<text x="251.7" y="971.3" font-size="29" fill="#231f20">PREP</text>
<text x="219.7" y="1005.0" font-size="24.8" fill="#231f20"><tspan font-style="italic">p</tspan>=4.47 e-11</text>
<text x="397.2" y="875.5" font-size="28.6" fill="#231f20">FASN</text>
<text x="373.2" y="907.5" font-size="24.8" fill="#231f20"><tspan font-style="italic">p</tspan>=9.6 e-16</text>
<text x="543.2" y="975.3" font-size="28.7" fill="#231f20">DPP4</text>
<text x="510.2" y="1004.0" font-size="24.9" fill="#231f20"><tspan font-style="italic">p</tspan>=3.17 e-10</text>
<text x="668.0" y="1027.2" font-size="28.7" fill="#231f20">PRCP</text>
<text x="684.8" y="1063.0" font-size="25.5" fill="#231f20">n.s.</text>
<text x="644.1" y="1123.0" font-size="22" fill="#231f20">(149)</text>
<text x="700.8" y="1105.0" font-size="21.7" fill="#231f20">(213)</text>
<text x="852.2" y="693.9" font-size="50" font-weight="bold" fill="#231f20">c</text>
<text x="925.2" y="785.0" font-size="28.6" fill="#231f20">Protease Activity Assay</text>
<rect x="1511.9" y="623.8" width="15.4" height="22.4" fill="#c58a6f" stroke="#222" stroke-width="1.3"/>
<rect x="1511.9" y="670.8" width="15.4" height="22.4" fill="#785a65" stroke="#222" stroke-width="1.3"/>
<rect x="1727.0" y="624.2" width="15.4" height="22.4" fill="#b3c1cb" stroke="#222" stroke-width="1.3"/>
<rect x="1727.0" y="667.9" width="15.4" height="22.4" fill="#6a89b3" stroke="#222" stroke-width="1.3"/>
<text x="1543.2" y="646.8" font-size="28.6" fill="#231f20">LongT</text>
<text x="1543.2" y="692.7" font-size="28.4" fill="#231f20">ShortT</text>
<text x="1758.8" y="646.8" font-size="28.6" fill="#231f20">LongN</text>
<text x="1748.4" y="690.4" font-size="28.6" fill="#231f20">ShortN</text>
<text x="1002.5" y="883.6" font-size="31.1" fill="#231f20">EndoP</text>
<line x1="930.0" y1="928.9" x2="930.0" y2="1235.7" stroke="#111" stroke-width="2.2"/>
<line x1="916.5" y1="1234.7" x2="1236.6" y2="1234.7" stroke="#111" stroke-width="2.2"/>
<line x1="916.5" y1="930.1" x2="930.0" y2="930.1" stroke="#111" stroke-width="2.2"/>
<text x="913.5" y="938.9" font-size="24" text-anchor="end" fill="#231f20">40</text>
<line x1="916.5" y1="1006.2" x2="930.0" y2="1006.2" stroke="#111" stroke-width="2.2"/>
<text x="913.5" y="1015.0" font-size="24" text-anchor="end" fill="#231f20">30</text>
<line x1="916.5" y1="1082.4" x2="930.0" y2="1082.4" stroke="#111" stroke-width="2.2"/>
<text x="913.5" y="1091.2" font-size="24" text-anchor="end" fill="#231f20">20</text>
<line x1="916.5" y1="1158.5" x2="930.0" y2="1158.5" stroke="#111" stroke-width="2.2"/>
<text x="913.5" y="1167.3" font-size="24" text-anchor="end" fill="#231f20">10</text>
<line x1="916.5" y1="1234.7" x2="930.0" y2="1234.7" stroke="#111" stroke-width="2.2"/>
<text x="913.5" y="1243.5" font-size="24" text-anchor="end" fill="#231f20">0</text>
<rect x="953.2" y="1182.3" width="46.3" height="52.4" fill="#b3c1cb" stroke="#111" stroke-width="2.2"/>
<rect x="1023.9" y="1101.6" width="45.6" height="133.1" fill="#c58a6f" stroke="#111" stroke-width="2.2"/>
<rect x="1094.4" y="1186.3" width="45.8" height="48.4" fill="#6a89b3" stroke="#111" stroke-width="2.2"/>
<rect x="1164.8" y="1106.0" width="45.8" height="128.7" fill="#785a65" stroke="#111" stroke-width="2.2"/>
<circle cx="976.5" cy="1138.7" r="5" fill="#000"/>
<circle cx="957.7" cy="1159.7" r="5" fill="#000"/>
<circle cx="976.5" cy="1168.7" r="5" fill="#000"/>
<circle cx="995.0" cy="1185.0" r="5" fill="#000"/>
<circle cx="957.7" cy="1193.6" r="5" fill="#000"/>
<circle cx="976.5" cy="1190.8" r="5" fill="#000"/>
<circle cx="995.0" cy="1198.5" r="5" fill="#000"/>
<circle cx="976.5" cy="1218.8" r="5" fill="#000"/>
<circle cx="1046.5" cy="1004.3" r="5" fill="#000"/>
<circle cx="1027.7" cy="1077.3" r="5" fill="#000"/>
<circle cx="1046.5" cy="1073.4" r="5" fill="#000"/>
<circle cx="1027.7" cy="1088.5" r="5" fill="#000"/>
<circle cx="1046.5" cy="1087.4" r="5" fill="#000"/>
<circle cx="1046.5" cy="1136.0" r="5" fill="#000"/>
<circle cx="1027.7" cy="1171.6" r="5" fill="#000"/>
<circle cx="1065.5" cy="1167.1" r="5" fill="#000"/>
<circle cx="1117.6" cy="1154.0" r="5" fill="#000"/>
<circle cx="1117.6" cy="1165.3" r="5" fill="#000"/>
<circle cx="1098.9" cy="1187.5" r="5" fill="#000"/>
<circle cx="1136.1" cy="1190.2" r="5" fill="#000"/>
<circle cx="1136.1" cy="1205.3" r="5" fill="#000"/>
<circle cx="1098.9" cy="1211.6" r="5" fill="#000"/>
<circle cx="1187.6" cy="982.9" r="5" fill="#000"/>
<circle cx="1187.6" cy="1080.6" r="5" fill="#000"/>
<circle cx="1187.6" cy="1114.5" r="5" fill="#000"/>
<circle cx="1187.6" cy="1132.6" r="5" fill="#000"/>
<circle cx="1187.6" cy="1149.1" r="5" fill="#000"/>
<circle cx="1187.6" cy="1174.4" r="5" fill="#000"/>
<line x1="976.5" y1="1173.2" x2="976.5" y2="1190.8" stroke="#111" stroke-width="2.2"/>
<line x1="964.5" y1="1173.2" x2="988.2" y2="1173.2" stroke="#111" stroke-width="2.2"/>
<line x1="964.5" y1="1190.8" x2="988.2" y2="1190.8" stroke="#111" stroke-width="2.2"/>
<line x1="1046.5" y1="1080.6" x2="1046.5" y2="1120.2" stroke="#111" stroke-width="2.2"/>
<line x1="1034.5" y1="1080.6" x2="1058.7" y2="1080.6" stroke="#111" stroke-width="2.2"/>
<line x1="1034.5" y1="1120.2" x2="1058.7" y2="1120.2" stroke="#111" stroke-width="2.2"/>
<line x1="1117.6" y1="1176.6" x2="1117.6" y2="1194.7" stroke="#111" stroke-width="2.2"/>
<line x1="1105.0" y1="1176.6" x2="1129.0" y2="1176.6" stroke="#111" stroke-width="2.2"/>
<line x1="1105.0" y1="1194.7" x2="1129.0" y2="1194.7" stroke="#111" stroke-width="2.2"/>
<line x1="1187.6" y1="1077.7" x2="1187.6" y2="1133.3" stroke="#111" stroke-width="2.2"/>
<line x1="1175.6" y1="1077.7" x2="1199.3" y2="1077.7" stroke="#111" stroke-width="2.2"/>
<line x1="1175.6" y1="1133.3" x2="1199.3" y2="1133.3" stroke="#111" stroke-width="2.2"/>
<text transform="translate(985.0,1253.0) rotate(-30)" font-size="21" text-anchor="end" fill="#231f20">LongN</text>
<text transform="translate(1057.3,1253.0) rotate(-30)" font-size="21" text-anchor="end" fill="#231f20">LongT</text>
<text transform="translate(1123.0,1250.5) rotate(-30)" font-size="21" text-anchor="end" fill="#231f20">ShortN</text>
<text transform="translate(1201.6,1251.0) rotate(-30)" font-size="21" text-anchor="end" fill="#231f20">ShortT</text>
<text x="971.7" y="987.0" font-size="25.3" fill="#231f20"><tspan font-style="italic">p</tspan>=0.004</text>
<line x1="966.8" y1="997.1" x2="1053.0" y2="997.1" stroke="#555" stroke-width="1.6"/>
<text x="1126.4" y="959.2" font-size="25.6" fill="#231f20"><tspan font-style="italic">p</tspan>=0.009</text>
<line x1="1112.9" y1="967.0" x2="1199.3" y2="967.0" stroke="#555" stroke-width="1.6"/>
<text transform="translate(850.3,1091.8) rotate(-90)" font-size="26.2" text-anchor="middle" fill="#231f20">Relative  activity  units</text>
<text transform="translate(880.3,1098.6) rotate(-90)" font-size="26" text-anchor="middle" fill="#231f20">(RFU/sec)</text>
<text x="1482.4" y="876.0" font-size="32" fill="#231f20">DPP4</text>
<line x1="1344.8" y1="924.0" x2="1344.8" y2="1231.3" stroke="#111" stroke-width="2.2"/>
<line x1="1331.3" y1="1230.3" x2="1652.3" y2="1230.3" stroke="#111" stroke-width="2.2"/>
<line x1="1331.3" y1="924.8" x2="1344.8" y2="924.8" stroke="#111" stroke-width="2.2"/>
<text x="1328.8" y="933.3" font-size="24" text-anchor="end" fill="#231f20">4×10<tspan font-size="15" dx="4" dy="-7">8</tspan></text>
<line x1="1331.3" y1="1001.2" x2="1344.8" y2="1001.2" stroke="#111" stroke-width="2.2"/>
<text x="1328.8" y="1009.7" font-size="24" text-anchor="end" fill="#231f20">3×10<tspan font-size="15" dx="4" dy="-7">8</tspan></text>
<line x1="1331.3" y1="1077.5" x2="1344.8" y2="1077.5" stroke="#111" stroke-width="2.2"/>
<text x="1328.8" y="1086.0" font-size="24" text-anchor="end" fill="#231f20">2×10<tspan font-size="15" dx="4" dy="-7">8</tspan></text>
<line x1="1331.3" y1="1153.9" x2="1344.8" y2="1153.9" stroke="#111" stroke-width="2.2"/>
<text x="1328.8" y="1162.4" font-size="24" text-anchor="end" fill="#231f20">1×10<tspan font-size="15" dx="4" dy="-7">8</tspan></text>
<line x1="1331.3" y1="1230.3" x2="1344.8" y2="1230.3" stroke="#111" stroke-width="2.2"/>
<text x="1328.3" y="1239.1" font-size="24" text-anchor="end" fill="#231f20">0</text>
<rect x="1369.2" y="1163.5" width="46.0" height="66.8" fill="#b3c1cb" stroke="#111" stroke-width="2.2"/>
<rect x="1439.9" y="1088.5" width="44.9" height="141.8" fill="#c58a6f" stroke="#111" stroke-width="2.2"/>
<rect x="1509.7" y="1151.9" width="45.8" height="78.4" fill="#6a89b3" stroke="#111" stroke-width="2.2"/>
<rect x="1580.4" y="1137.3" width="44.9" height="93.0" fill="#785a65" stroke="#111" stroke-width="2.2"/>
<circle cx="1385.7" cy="1143.7" r="5" fill="#000"/>
<circle cx="1398.0" cy="1146.3" r="5" fill="#000"/>
<circle cx="1373.0" cy="1160.4" r="5" fill="#000"/>
<circle cx="1385.7" cy="1157.0" r="5" fill="#000"/>
<circle cx="1385.7" cy="1168.1" r="5" fill="#000"/>
<circle cx="1373.0" cy="1175.8" r="5" fill="#000"/>
<circle cx="1398.0" cy="1175.8" r="5" fill="#000"/>
<circle cx="1410.8" cy="1174.0" r="5" fill="#000"/>
<circle cx="1462.2" cy="1008.0" r="5" fill="#000"/>
<circle cx="1481.0" cy="1033.2" r="5" fill="#000"/>
<circle cx="1462.2" cy="1039.1" r="5" fill="#000"/>
<circle cx="1462.2" cy="1074.8" r="5" fill="#000"/>
<circle cx="1443.5" cy="1128.3" r="5" fill="#000"/>
<circle cx="1462.2" cy="1131.4" r="5" fill="#000"/>
<circle cx="1481.0" cy="1124.4" r="5" fill="#000"/>
<circle cx="1462.2" cy="1164.8" r="5" fill="#000"/>
<circle cx="1532.3" cy="1106.4" r="5" fill="#000"/>
<circle cx="1513.6" cy="1114.7" r="5" fill="#000"/>
<circle cx="1550.8" cy="1163.0" r="5" fill="#000"/>
<circle cx="1532.3" cy="1170.2" r="5" fill="#000"/>
<circle cx="1550.8" cy="1174.5" r="5" fill="#000"/>
<circle cx="1513.6" cy="1178.9" r="5" fill="#000"/>
<circle cx="1602.7" cy="1071.8" r="5" fill="#000"/>
<circle cx="1584.2" cy="1132.6" r="5" fill="#000"/>
<circle cx="1602.7" cy="1141.9" r="5" fill="#000"/>
<circle cx="1622.0" cy="1147.5" r="5" fill="#000"/>
<circle cx="1602.7" cy="1154.0" r="5" fill="#000"/>
<circle cx="1602.7" cy="1170.7" r="5" fill="#000"/>
<line x1="1391.6" y1="1158.6" x2="1391.6" y2="1167.3" stroke="#111" stroke-width="2.2"/>
<line x1="1380.0" y1="1158.6" x2="1403.9" y2="1158.6" stroke="#111" stroke-width="2.2"/>
<line x1="1380.0" y1="1167.3" x2="1403.9" y2="1167.3" stroke="#111" stroke-width="2.2"/>
<line x1="1462.2" y1="1067.9" x2="1462.2" y2="1108.2" stroke="#111" stroke-width="2.2"/>
<line x1="1450.1" y1="1067.9" x2="1474.3" y2="1067.9" stroke="#111" stroke-width="2.2"/>
<line x1="1450.1" y1="1108.2" x2="1474.3" y2="1108.2" stroke="#111" stroke-width="2.2"/>
<line x1="1532.3" y1="1138.6" x2="1532.3" y2="1164.2" stroke="#111" stroke-width="2.2"/>
<line x1="1520.0" y1="1138.6" x2="1544.4" y2="1138.6" stroke="#111" stroke-width="2.2"/>
<line x1="1520.0" y1="1164.2" x2="1544.4" y2="1164.2" stroke="#111" stroke-width="2.2"/>
<line x1="1602.7" y1="1122.4" x2="1602.7" y2="1150.6" stroke="#111" stroke-width="2.2"/>
<line x1="1590.7" y1="1122.4" x2="1615.0" y2="1122.4" stroke="#111" stroke-width="2.2"/>
<line x1="1590.7" y1="1150.6" x2="1615.0" y2="1150.6" stroke="#111" stroke-width="2.2"/>
<text transform="translate(1398.2,1252.0) rotate(-30)" font-size="21" text-anchor="end" fill="#231f20">LongN</text>
<text transform="translate(1468.5,1253.0) rotate(-30)" font-size="21" text-anchor="end" fill="#231f20">LongT</text>
<text transform="translate(1536.4,1250.2) rotate(-30)" font-size="21" text-anchor="end" fill="#231f20">ShortN</text>
<text transform="translate(1613.5,1252.0) rotate(-30)" font-size="21" text-anchor="end" fill="#231f20">ShortT</text>
<text x="1377.4" y="983.1" font-size="25.6" fill="#231f20"><tspan font-style="italic">p</tspan>=0.003</text>
<line x1="1379.2" y1="996.0" x2="1466.6" y2="996.0" stroke="#333" stroke-width="1.6"/>
<text x="1550.3" y="1061.5" font-size="26" fill="#231f20">n.s.</text>
<text x="1824.5" y="859.8" font-size="31.2" fill="#231f20">PREP</text>
<text x="1746.2" y="904.8" font-size="28.5" fill="#231f20">EndoP + Sitaglipti</text>
<text x="1746.2" y="938.2" font-size="28.7" fill="#231f20">(PREP)</text>
<line x1="1708.9" y1="929.2" x2="1708.9" y2="1236.0" stroke="#111" stroke-width="2.2"/>
<line x1="1695.4" y1="1235.0" x2="2015.7" y2="1235.0" stroke="#111" stroke-width="2.2"/>
<line x1="1695.4" y1="930.5" x2="1708.9" y2="930.5" stroke="#111" stroke-width="2.2"/>
<text x="1692.4" y="939.3" font-size="24" text-anchor="end" fill="#231f20">15</text>
<line x1="1695.4" y1="1032.0" x2="1708.9" y2="1032.0" stroke="#111" stroke-width="2.2"/>
<text x="1692.4" y="1040.8" font-size="24" text-anchor="end" fill="#231f20">10</text>
<line x1="1695.4" y1="1133.5" x2="1708.9" y2="1133.5" stroke="#111" stroke-width="2.2"/>
<text x="1692.4" y="1142.3" font-size="24" text-anchor="end" fill="#231f20">5</text>
<line x1="1695.4" y1="1235.0" x2="1708.9" y2="1235.0" stroke="#111" stroke-width="2.2"/>
<text x="1692.4" y="1243.8" font-size="24" text-anchor="end" fill="#231f20">0</text>
<rect x="1733.0" y="1166.4" width="45.8" height="68.6" fill="#b3c1cb" stroke="#111" stroke-width="2.2"/>
<rect x="1803.5" y="1093.2" width="45.2" height="141.8" fill="#c58a6f" stroke="#111" stroke-width="2.2"/>
<rect x="1873.9" y="1173.4" width="45.5" height="61.6" fill="#6a89b3" stroke="#111" stroke-width="2.2"/>
<rect x="1944.0" y="1096.3" width="45.5" height="138.7" fill="#785a65" stroke="#111" stroke-width="2.2"/>
<circle cx="1756.2" cy="1122.7" r="5" fill="#000"/>
<circle cx="1756.2" cy="1133.0" r="5" fill="#000"/>
<circle cx="1756.2" cy="1143.8" r="5" fill="#000"/>
<circle cx="1756.2" cy="1155.4" r="5" fill="#000"/>
<circle cx="1737.1" cy="1177.7" r="5" fill="#000"/>
<circle cx="1756.2" cy="1185.7" r="5" fill="#000"/>
<circle cx="1774.2" cy="1199.1" r="5" fill="#000"/>
<circle cx="1737.1" cy="1207.3" r="5" fill="#000"/>
<circle cx="1826.3" cy="1020.5" r="5" fill="#000"/>
<circle cx="1844.8" cy="1020.0" r="5" fill="#000"/>
<circle cx="1826.3" cy="1043.1" r="5" fill="#000"/>
<circle cx="1826.3" cy="1094.5" r="5" fill="#000"/>
<circle cx="1844.8" cy="1116.3" r="5" fill="#000"/>
<circle cx="1826.3" cy="1124.5" r="5" fill="#000"/>
<circle cx="1826.3" cy="1148.4" r="5" fill="#000"/>
<circle cx="1826.3" cy="1173.9" r="5" fill="#000"/>
<circle cx="1896.5" cy="1152.8" r="5" fill="#000"/>
<circle cx="1877.7" cy="1164.4" r="5" fill="#000"/>
<circle cx="1915.0" cy="1170.8" r="5" fill="#000"/>
<circle cx="1896.5" cy="1175.4" r="5" fill="#000"/>
<circle cx="1877.7" cy="1188.0" r="5" fill="#000"/>
<circle cx="1915.0" cy="1188.0" r="5" fill="#000"/>
<circle cx="1966.9" cy="1021.2" r="5" fill="#000"/>
<circle cx="1966.9" cy="1046.9" r="5" fill="#000"/>
<circle cx="1966.9" cy="1096.3" r="5" fill="#000"/>
<circle cx="1966.9" cy="1131.7" r="5" fill="#000"/>
<circle cx="1985.7" cy="1137.4" r="5" fill="#000"/>
<circle cx="1947.9" cy="1144.3" r="5" fill="#000"/>
<line x1="1756.2" y1="1154.9" x2="1756.2" y2="1176.7" stroke="#111" stroke-width="2.2"/>
<line x1="1744.0" y1="1154.9" x2="1767.7" y2="1154.9" stroke="#111" stroke-width="2.2"/>
<line x1="1744.0" y1="1176.7" x2="1767.7" y2="1176.7" stroke="#111" stroke-width="2.2"/>
<line x1="1826.3" y1="1071.9" x2="1826.3" y2="1113.0" stroke="#111" stroke-width="2.2"/>
<line x1="1814.2" y1="1071.9" x2="1838.4" y2="1071.9" stroke="#111" stroke-width="2.2"/>
<line x1="1814.2" y1="1113.0" x2="1838.4" y2="1113.0" stroke="#111" stroke-width="2.2"/>
<line x1="1896.5" y1="1167.7" x2="1896.5" y2="1179.3" stroke="#111" stroke-width="2.2"/>
<line x1="1884.2" y1="1167.7" x2="1908.6" y2="1167.7" stroke="#111" stroke-width="2.2"/>
<line x1="1884.2" y1="1179.3" x2="1908.6" y2="1179.3" stroke="#111" stroke-width="2.2"/>
<line x1="1966.9" y1="1075.2" x2="1966.9" y2="1117.3" stroke="#111" stroke-width="2.2"/>
<line x1="1954.8" y1="1075.2" x2="1978.7" y2="1075.2" stroke="#111" stroke-width="2.2"/>
<line x1="1954.8" y1="1117.3" x2="1978.7" y2="1117.3" stroke="#111" stroke-width="2.2"/>
<text transform="translate(1772.3,1258.7) rotate(-30)" font-size="21" text-anchor="end" fill="#231f20">LongN</text>
<text transform="translate(1842.3,1259.6) rotate(-30)" font-size="21" text-anchor="end" fill="#231f20">LongT</text>
<text transform="translate(1911.4,1257.0) rotate(-30)" font-size="21" text-anchor="end" fill="#231f20">ShortN</text>
<text transform="translate(1988.3,1257.9) rotate(-30)" font-size="21" text-anchor="end" fill="#231f20">ShortT</text>
<text x="1723.5" y="989.6" font-size="24.7" fill="#231f20"><tspan font-style="italic">p</tspan>=0.008</text>
<line x1="1723.0" y1="1001.2" x2="1818.1" y2="1001.2" stroke="#333" stroke-width="1.6"/>
<text x="1876.7" y="1005.0" font-size="24.5" fill="#231f20"><tspan font-style="italic">p</tspan>=0.05</text>
<line x1="1877.7" y1="1018.4" x2="1972.8" y2="1018.4" stroke="#333" stroke-width="1.6"/>
<text x="25.4" y="1489.6" font-size="50" font-weight="bold" fill="#231f20">d</text>
<text x="203.8" y="1512.9" font-size="28.4" fill="#231f20">dd-ABPP</text>
<text x="121.2" y="1596.7" font-size="28.2" fill="#231f20">Spearman’s rho= -0.04</text>
<path d="M191.8,1747 C230,1772 270,1806 306,1807.5 C335,1808 360,1790 386.8,1771 L386.8,1926 C360,1910 335,1888 306,1887.5 C270,1887 230,1915 191.8,1943.5 Z" fill="#e6e6e6"/>
<line x1="191.8" y1="1845.4" x2="386.8" y2="1848.6" stroke="#333" stroke-width="1.4"/>
<line x1="182.2" y1="1679.8" x2="182.2" y2="1963.4" stroke="#444" stroke-width="1.6"/>
<line x1="182.2" y1="1963.4" x2="395.8" y2="1963.4" stroke="#444" stroke-width="1.6"/>
<text x="175.8" y="1687.8" font-size="25.5" text-anchor="end" fill="#231f20">0.8</text>
<text x="175.8" y="1754.5" font-size="25.5" text-anchor="end" fill="#231f20">0.6</text>
<text x="175.8" y="1821.2" font-size="25.5" text-anchor="end" fill="#231f20">0.4</text>
<text x="175.8" y="1887.0" font-size="25.5" text-anchor="end" fill="#231f20">0.2</text>
<text x="175.8" y="1953.5" font-size="25.5" text-anchor="end" fill="#231f20">0.0</text>
<text x="243.6" y="1990.0" font-size="24.8" text-anchor="middle" fill="#231f20">8</text>
<text x="321.0" y="1990.0" font-size="24.8" text-anchor="middle" fill="#231f20">10</text>
<text x="393.2" y="1990.0" font-size="24.8" text-anchor="middle" fill="#231f20">12</text>
<text x="351.5" y="1687.8" font-size="25" fill="#231f20"><tspan font-style="italic">p</tspan>=0.8</text>
<text x="170.8" y="2028.3" font-size="27.5" fill="#231f20">ELANE abundance.</text>
<text transform="translate(96.0,1831.5) rotate(-90)" font-size="28.2" text-anchor="middle" fill="#231f20">ELANE  Catalytic activity</text>
<circle cx="260.6" cy="1702.8" r="4.9" fill="#111"/>
<circle cx="291.6" cy="1692.6" r="4.9" fill="#111"/>
<circle cx="298.0" cy="1743.0" r="4.9" fill="#111"/>
<circle cx="314.9" cy="1735.7" r="4.9" fill="#111"/>
<circle cx="315.9" cy="1747.0" r="4.9" fill="#111"/>
<circle cx="326.1" cy="1766.0" r="4.9" fill="#111"/>
<circle cx="385.9" cy="1754.0" r="4.9" fill="#111"/>
<circle cx="350.1" cy="1786.2" r="4.9" fill="#111"/>
<circle cx="321.3" cy="1797.4" r="4.9" fill="#111"/>
<circle cx="191.8" cy="1950.0" r="4.9" fill="#111"/>
<circle cx="282.3" cy="1950.0" r="4.9" fill="#111"/>
<circle cx="298.9" cy="1950.0" r="4.9" fill="#111"/>
<circle cx="307.6" cy="1950.0" r="4.9" fill="#111"/>
<circle cx="303.7" cy="1939.4" r="4.9" fill="#111"/>
<circle cx="320.7" cy="1950.0" r="4.9" fill="#111"/>
<circle cx="327.7" cy="1950.0" r="4.9" fill="#111"/>
<circle cx="334.1" cy="1950.0" r="4.9" fill="#111"/>
<circle cx="351.0" cy="1946.1" r="4.9" fill="#111"/>
<circle cx="196.6" cy="1800.3" r="4.9" fill="#7f7f7f"/>
<circle cx="209.4" cy="1815.7" r="4.9" fill="#7f7f7f"/>
<circle cx="261.5" cy="1864.6" r="4.9" fill="#7f7f7f"/>
<circle cx="317.5" cy="1858.2" r="4.9" fill="#7f7f7f"/>
<circle cx="373.1" cy="1840.6" r="4.9" fill="#7f7f7f"/>
<circle cx="352.3" cy="1897.2" r="4.9" fill="#7f7f7f"/>
<text x="553.3" y="1512.6" font-size="28.6" fill="#231f20">Protease Activity Assay</text>
<text x="695.6" y="1679.0" font-size="28" fill="#231f20">ELANE</text>
<line x1="600.0" y1="1716.2" x2="600.0" y2="2004.0" stroke="#111" stroke-width="2.2"/>
<line x1="589.1" y1="2003.0" x2="886.1" y2="2003.0" stroke="#111" stroke-width="2.2"/>
<line x1="589.1" y1="1716.8" x2="600.0" y2="1716.8" stroke="#111" stroke-width="2.2"/>
<text x="585.0" y="1724.3" font-size="21.5" text-anchor="end" fill="#231f20">4</text>
<line x1="589.1" y1="1788.3" x2="600.0" y2="1788.3" stroke="#111" stroke-width="2.2"/>
<text x="585.0" y="1795.8" font-size="21.5" text-anchor="end" fill="#231f20">3</text>
<line x1="589.1" y1="1859.9" x2="600.0" y2="1859.9" stroke="#111" stroke-width="2.2"/>
<text x="585.0" y="1867.4" font-size="21.5" text-anchor="end" fill="#231f20">2</text>
<line x1="589.1" y1="1931.5" x2="600.0" y2="1931.5" stroke="#111" stroke-width="2.2"/>
<text x="585.0" y="1939.0" font-size="21.5" text-anchor="end" fill="#231f20">1</text>
<line x1="589.1" y1="2003.0" x2="600.0" y2="2003.0" stroke="#111" stroke-width="2.2"/>
<text x="585.0" y="2010.5" font-size="21.5" text-anchor="end" fill="#231f20">0</text>
<rect x="622.2" y="1972.7" width="42.8" height="30.3" fill="#b3c1cb" stroke="#111" stroke-width="2.2"/>
<rect x="688.1" y="1908.6" width="42.7" height="94.4" fill="#c58a6f" stroke="#111" stroke-width="2.2"/>
<rect x="754.0" y="1992.2" width="43.0" height="10.8" fill="#6a89b3" stroke="#111" stroke-width="2.2"/>
<rect x="820.2" y="1938.0" width="42.7" height="65.0" fill="#785a65" stroke="#111" stroke-width="2.2"/>
<circle cx="643.9" cy="1927.2" r="4.9" fill="#000"/>
<circle cx="643.9" cy="1943.6" r="4.9" fill="#000"/>
<circle cx="626.2" cy="1962.8" r="4.9" fill="#000"/>
<circle cx="643.9" cy="1966.8" r="4.9" fill="#000"/>
<circle cx="643.9" cy="1983.5" r="4.9" fill="#000"/>
<circle cx="626.2" cy="1991.2" r="4.9" fill="#000"/>
<circle cx="661.2" cy="1991.2" r="4.9" fill="#000"/>
<circle cx="709.2" cy="1762.3" r="4.9" fill="#000"/>
<circle cx="709.2" cy="1851.4" r="4.9" fill="#000"/>
<circle cx="709.2" cy="1893.2" r="4.9" fill="#000"/>
<circle cx="691.8" cy="1899.3" r="4.9" fill="#000"/>
<circle cx="726.8" cy="1955.6" r="4.9" fill="#000"/>
<circle cx="709.2" cy="1963.4" r="4.9" fill="#000"/>
<circle cx="691.8" cy="1969.0" r="4.9" fill="#000"/>
<circle cx="726.8" cy="1969.0" r="4.9" fill="#000"/>
<circle cx="793.3" cy="1975.8" r="4.9" fill="#000"/>
<circle cx="775.7" cy="1981.3" r="4.9" fill="#000"/>
<circle cx="757.7" cy="1984.4" r="4.9" fill="#000"/>
<circle cx="793.3" cy="1985.0" r="4.9" fill="#000"/>
<circle cx="841.3" cy="1849.8" r="4.9" fill="#000"/>
<circle cx="841.3" cy="1914.2" r="4.9" fill="#000"/>
<circle cx="841.3" cy="1959.7" r="4.9" fill="#000"/>
<circle cx="859.2" cy="1956.6" r="4.9" fill="#000"/>
<circle cx="823.6" cy="1973.6" r="4.9" fill="#000"/>
<circle cx="859.2" cy="1968.9" r="4.9" fill="#000"/>
<line x1="643.9" y1="1962.8" x2="643.9" y2="1981.3" stroke="#111" stroke-width="2.2"/>
<line x1="632.4" y1="1962.8" x2="655.0" y2="1962.8" stroke="#111" stroke-width="2.2"/>
<line x1="632.4" y1="1981.3" x2="655.0" y2="1981.3" stroke="#111" stroke-width="2.2"/>
<line x1="709.8" y1="1881.7" x2="709.8" y2="1933.4" stroke="#111" stroke-width="2.2"/>
<line x1="698.3" y1="1881.7" x2="721.2" y2="1881.7" stroke="#111" stroke-width="2.2"/>
<line x1="698.3" y1="1933.4" x2="721.2" y2="1933.4" stroke="#111" stroke-width="2.2"/>
<line x1="775.7" y1="1985.3" x2="775.7" y2="1997.7" stroke="#111" stroke-width="2.2"/>
<line x1="763.9" y1="1985.3" x2="786.5" y2="1985.3" stroke="#111" stroke-width="2.2"/>
<line x1="763.9" y1="1997.7" x2="786.5" y2="1997.7" stroke="#111" stroke-width="2.2"/>
<line x1="841.3" y1="1917.3" x2="841.3" y2="1956.6" stroke="#111" stroke-width="2.2"/>
<line x1="829.8" y1="1917.3" x2="852.7" y2="1917.3" stroke="#111" stroke-width="2.2"/>
<line x1="829.8" y1="1956.6" x2="852.7" y2="1956.6" stroke="#111" stroke-width="2.2"/>
<text x="629.7" y="1740.0" font-size="23.2" fill="#231f20"><tspan font-style="italic">p</tspan>=0.03</text>
<line x1="634.9" y1="1748.3" x2="713.5" y2="1748.3" stroke="#333" stroke-width="1.6"/>
<text x="770.8" y="1818.9" font-size="23.1" fill="#231f20"><tspan font-style="italic">p</tspan>=0.04</text>
<line x1="775.7" y1="1835.3" x2="853.6" y2="1835.3" stroke="#333" stroke-width="1.6"/>
<text transform="translate(519.5,1861.4) rotate(-90)" font-size="23.6" text-anchor="middle" fill="#231f20">Relative  activit y units</text>
<text transform="translate(551.0,1860.6) rotate(-90)" font-size="24" text-anchor="middle" fill="#231f20">(RFU/sec)</text>
<text transform="translate(640.2,2031.0) rotate(-30)" font-size="21" text-anchor="end" fill="#231f20">LongN</text>
<text transform="translate(710.5,2032.5) rotate(-30)" font-size="21" text-anchor="end" fill="#231f20">LongT</text>
<text transform="translate(778.5,2030.0) rotate(-30)" font-size="21" text-anchor="end" fill="#231f20">ShortN</text>
<text transform="translate(855.5,2030.5) rotate(-30)" font-size="21" text-anchor="end" fill="#231f20">ShortT</text>
<line x1="179.2" y1="1686.3" x2="182.2" y2="1686.3" stroke="#444" stroke-width="1.4"/>
<line x1="179.2" y1="1752.4" x2="182.2" y2="1752.4" stroke="#444" stroke-width="1.4"/>
<line x1="179.2" y1="1818.5" x2="182.2" y2="1818.5" stroke="#444" stroke-width="1.4"/>
<line x1="179.2" y1="1884.6" x2="182.2" y2="1884.6" stroke="#444" stroke-width="1.4"/>
<line x1="179.2" y1="1950.7" x2="182.2" y2="1950.7" stroke="#444" stroke-width="1.4"/>
<line x1="246.5" y1="1963.4" x2="246.5" y2="1966.4" stroke="#444" stroke-width="1.4"/>
<line x1="318.2" y1="1963.4" x2="318.2" y2="1966.4" stroke="#444" stroke-width="1.4"/>
<line x1="389.5" y1="1963.4" x2="389.5" y2="1966.4" stroke="#444" stroke-width="1.4"/>
<line x1="670.9" y1="2003.0" x2="670.9" y2="2006.0" stroke="#111" stroke-width="2"/>
<line x1="742.6" y1="2003.0" x2="742.6" y2="2006.0" stroke="#111" stroke-width="2"/>
<line x1="814.2" y1="2003.0" x2="814.2" y2="2006.0" stroke="#111" stroke-width="2"/>
<text x="1041.8" y="1482.8" font-size="50" font-weight="bold" fill="#231f20">e</text>
<text x="1246.0" y="1515.5" font-size="28.4" fill="#231f20">FP-biotin probe in  ABPP</text>
<line x1="1191.4" y1="1610.2" x2="1191.4" y2="1993.4" stroke="#111" stroke-width="2.2"/>
<line x1="1176.0" y1="1992.4" x2="1715.4" y2="1992.4" stroke="#111" stroke-width="2.2"/>
<line x1="1176.0" y1="1611.4" x2="1191.4" y2="1611.4" stroke="#111" stroke-width="2.2"/>
<text x="1171.5" y="1621.9" font-size="29" text-anchor="end" fill="#231f20">60</text>
<line x1="1176.0" y1="1738.4" x2="1191.4" y2="1738.4" stroke="#111" stroke-width="2.2"/>
<text x="1171.5" y="1748.9" font-size="29" text-anchor="end" fill="#231f20">40</text>
<line x1="1176.0" y1="1865.4" x2="1191.4" y2="1865.4" stroke="#111" stroke-width="2.2"/>
<text x="1171.5" y="1875.9" font-size="29" text-anchor="end" fill="#231f20">20</text>
<line x1="1176.0" y1="1992.4" x2="1191.4" y2="1992.4" stroke="#111" stroke-width="2.2"/>
<text x="1171.5" y="2002.9" font-size="29" text-anchor="end" fill="#231f20">0</text>
<rect x="1215.3" y="1885.0" width="44.0" height="107.4" fill="#c58a6f" stroke="#111" stroke-width="2.2"/>
<rect x="1283.4" y="1847.4" width="44.0" height="145.0" fill="#785a65" stroke="#111" stroke-width="2.2"/>
<rect x="1396.0" y="1887.7" width="44.0" height="104.7" fill="#c58a6f" stroke="#111" stroke-width="2.2"/>
<rect x="1464.0" y="1873.5" width="44.5" height="118.9" fill="#785a65" stroke="#111" stroke-width="2.2"/>
<rect x="1576.6" y="1893.0" width="44.4" height="99.4" fill="#c58a6f" stroke="#111" stroke-width="2.2"/>
<rect x="1645.7" y="1809.7" width="43.5" height="182.7" fill="#785a65" stroke="#111" stroke-width="2.2"/>
<line x1="1237.3" y1="1877.2" x2="1237.3" y2="1890.3" stroke="#111" stroke-width="2.2"/>
<line x1="1225.8" y1="1877.2" x2="1248.8" y2="1877.2" stroke="#111" stroke-width="2.2"/>
<line x1="1225.8" y1="1890.3" x2="1248.8" y2="1890.3" stroke="#111" stroke-width="2.2"/>
<line x1="1305.4" y1="1833.8" x2="1305.4" y2="1858.9" stroke="#111" stroke-width="2.2"/>
<line x1="1294.9" y1="1833.8" x2="1316.9" y2="1833.8" stroke="#111" stroke-width="2.2"/>
<line x1="1294.9" y1="1858.9" x2="1316.9" y2="1858.9" stroke="#111" stroke-width="2.2"/>
<line x1="1418.0" y1="1873.5" x2="1418.0" y2="1899.7" stroke="#111" stroke-width="2.2"/>
<line x1="1407.5" y1="1873.5" x2="1429.5" y2="1873.5" stroke="#111" stroke-width="2.2"/>
<line x1="1407.5" y1="1899.7" x2="1429.5" y2="1899.7" stroke="#111" stroke-width="2.2"/>
<line x1="1486.0" y1="1856.3" x2="1486.0" y2="1889.3" stroke="#111" stroke-width="2.2"/>
<line x1="1474.5" y1="1856.3" x2="1497.5" y2="1856.3" stroke="#111" stroke-width="2.2"/>
<line x1="1474.5" y1="1889.3" x2="1497.5" y2="1889.3" stroke="#111" stroke-width="2.2"/>
<line x1="1598.6" y1="1882.5" x2="1598.6" y2="1903.4" stroke="#111" stroke-width="2.2"/>
<line x1="1588.1" y1="1882.5" x2="1610.6" y2="1882.5" stroke="#111" stroke-width="2.2"/>
<line x1="1588.1" y1="1903.4" x2="1610.6" y2="1903.4" stroke="#111" stroke-width="2.2"/>
<line x1="1667.7" y1="1780.9" x2="1667.7" y2="1836.9" stroke="#111" stroke-width="2.2"/>
<line x1="1656.2" y1="1780.9" x2="1679.8" y2="1780.9" stroke="#111" stroke-width="2.2"/>
<line x1="1656.2" y1="1836.9" x2="1679.8" y2="1836.9" stroke="#111" stroke-width="2.2"/>
<circle cx="1221.6" cy="1858.4" r="7.7" fill="#000"/>
<circle cx="1252.0" cy="1871.5" r="7.7" fill="#000"/>
<circle cx="1221.6" cy="1884.6" r="7.7" fill="#000"/>
<circle cx="1237.3" cy="1888.3" r="7.7" fill="#000"/>
<circle cx="1252.0" cy="1897.7" r="7.7" fill="#000"/>
<circle cx="1221.6" cy="1906.6" r="7.7" fill="#000"/>
<circle cx="1305.4" cy="1800.8" r="7.7" fill="#000"/>
<circle cx="1305.4" cy="1830.7" r="7.7" fill="#000"/>
<circle cx="1321.1" cy="1843.8" r="7.7" fill="#000"/>
<circle cx="1305.4" cy="1850.6" r="7.7" fill="#000"/>
<circle cx="1305.4" cy="1867.3" r="7.7" fill="#000"/>
<circle cx="1305.4" cy="1889.9" r="7.7" fill="#000"/>
<circle cx="1403.3" cy="1848.0" r="7.7" fill="#000"/>
<circle cx="1418.0" cy="1852.7" r="7.7" fill="#000"/>
<circle cx="1403.3" cy="1884.6" r="7.7" fill="#000"/>
<circle cx="1433.6" cy="1892.0" r="7.7" fill="#000"/>
<circle cx="1403.3" cy="1924.9" r="7.7" fill="#000"/>
<circle cx="1433.6" cy="1920.8" r="7.7" fill="#000"/>
<circle cx="1486.0" cy="1800.8" r="7.7" fill="#000"/>
<circle cx="1486.0" cy="1850.6" r="7.7" fill="#000"/>
<circle cx="1501.7" cy="1884.6" r="7.7" fill="#000"/>
<circle cx="1486.0" cy="1889.9" r="7.7" fill="#000"/>
<circle cx="1471.4" cy="1909.2" r="7.7" fill="#000"/>
<circle cx="1501.7" cy="1904.0" r="7.7" fill="#000"/>
<circle cx="1598.6" cy="1848.0" r="7.7" fill="#000"/>
<circle cx="1614.3" cy="1878.9" r="7.7" fill="#000"/>
<circle cx="1583.9" cy="1897.7" r="7.7" fill="#000"/>
<circle cx="1598.6" cy="1905.6" r="7.7" fill="#000"/>
<circle cx="1614.3" cy="1906.6" r="7.7" fill="#000"/>
<circle cx="1583.9" cy="1920.8" r="7.7" fill="#000"/>
<circle cx="1667.7" cy="1672.6" r="7.7" fill="#000"/>
<circle cx="1667.7" cy="1800.8" r="7.7" fill="#000"/>
<circle cx="1652.5" cy="1837.5" r="7.7" fill="#000"/>
<circle cx="1667.7" cy="1842.7" r="7.7" fill="#000"/>
<circle cx="1682.4" cy="1848.0" r="7.7" fill="#000"/>
<circle cx="1652.5" cy="1852.7" r="7.7" fill="#000"/>
<polyline points="1245.2,1819.6 1245.2,1772 1301.7,1772 1301.7,1780.3" fill="none" stroke="#222" stroke-width="1.6"/>
<polyline points="1596,1816 1596,1658.4 1669.3,1658.4 1669.3,1666.2" fill="none" stroke="#222" stroke-width="1.6"/>
<text x="1235.5" y="1755.1" font-size="25.3" fill="#231f20"><tspan font-style="italic">p</tspan>=0.01</text>
<text x="1609.9" y="1639.9" font-size="24.6" fill="#231f20"><tspan font-style="italic">p</tspan>=1.02e-06</text>
<text x="1244.4" y="1700.1" font-size="27.4" fill="#231f20">IAH1</text>
<text x="1408.3" y="1701.2" font-size="28.4" fill="#231f20">LYPLA2</text>
<text x="1604.6" y="1594.3" font-size="28" fill="#231f20">LYPLAL1</text>
<text x="1438.7" y="1739.3" font-size="26" fill="#231f20">n.s.</text>
<text x="1448.6" y="1773.3" font-size="22.3" fill="#231f20">(115)</text>
<text x="1400.4" y="1819.5" font-size="22.1" fill="#231f20">(100)</text>
<text transform="translate(1118.2,1795.6) rotate(-90)" font-size="25" text-anchor="middle" fill="#231f20">Spectral counts</text>
<text x="1247.5" y="2027.3" font-size="28.4" fill="#231f20">Long vs. Short survivals (Tumor)</text>
<rect x="1750.8" y="1842.5" width="16.0" height="22.4" fill="#c58a6f" stroke="#333" stroke-width="1.3"/>
<rect x="1750.8" y="1889.0" width="16.0" height="23.0" fill="#785a65" stroke="#333" stroke-width="1.3"/>
<text x="1782.7" y="1863.5" font-size="28.8" fill="#231f20">Long Tumor</text>
<text x="1782.7" y="1909.6" font-size="28.7" fill="#231f20">Short Tumor</text>
</svg>
</body></html>
